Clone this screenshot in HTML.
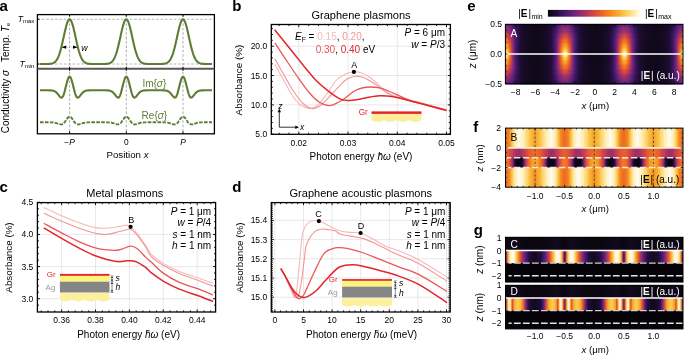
<!DOCTYPE html>
<html><head><meta charset="utf-8"><style>
html,body{margin:0;padding:0;background:#fff;}
svg{display:block;will-change:transform;}
text{font-family:"Liberation Sans", sans-serif;}
</style></head><body>
<svg width="685" height="356" viewBox="0 0 685 356">
<defs><linearGradient id="g1" gradientUnits="userSpaceOnUse" x1="565.13" y1="0" x2="594.85" y2="0" spreadMethod="reflect"><stop offset="0" stop-color="#672377"/><stop offset="0.04" stop-color="#652376"/><stop offset="0.08" stop-color="#612275"/><stop offset="0.12" stop-color="#5b2074"/><stop offset="0.17" stop-color="#531d72"/><stop offset="0.21" stop-color="#491a70"/><stop offset="0.25" stop-color="#411866"/><stop offset="0.29" stop-color="#38155a"/><stop offset="0.33" stop-color="#30134e"/><stop offset="0.38" stop-color="#291044"/><stop offset="0.42" stop-color="#230e3b"/><stop offset="0.46" stop-color="#1f0d35"/><stop offset="0.5" stop-color="#1c0c2f"/><stop offset="0.54" stop-color="#1a0c2b"/><stop offset="0.58" stop-color="#180b28"/><stop offset="0.62" stop-color="#160b25"/><stop offset="0.67" stop-color="#150a23"/><stop offset="0.71" stop-color="#140a21"/><stop offset="0.75" stop-color="#130a20"/><stop offset="0.79" stop-color="#12091e"/><stop offset="0.83" stop-color="#12091d"/><stop offset="0.88" stop-color="#11091c"/><stop offset="0.92" stop-color="#11091c"/><stop offset="0.96" stop-color="#10091b"/><stop offset="1" stop-color="#10091b"/></linearGradient><linearGradient id="g2" gradientUnits="userSpaceOnUse" x1="565.13" y1="0" x2="594.85" y2="0" spreadMethod="reflect"><stop offset="0" stop-color="#6c2578"/><stop offset="0.04" stop-color="#6b2578"/><stop offset="0.08" stop-color="#662377"/><stop offset="0.12" stop-color="#602175"/><stop offset="0.17" stop-color="#571e73"/><stop offset="0.21" stop-color="#4d1b71"/><stop offset="0.25" stop-color="#431869"/><stop offset="0.29" stop-color="#3a165c"/><stop offset="0.33" stop-color="#321350"/><stop offset="0.38" stop-color="#2a1145"/><stop offset="0.42" stop-color="#230e3c"/><stop offset="0.46" stop-color="#1f0d35"/><stop offset="0.5" stop-color="#1c0c30"/><stop offset="0.54" stop-color="#1a0c2b"/><stop offset="0.58" stop-color="#180b28"/><stop offset="0.62" stop-color="#160b25"/><stop offset="0.67" stop-color="#150a23"/><stop offset="0.71" stop-color="#140a21"/><stop offset="0.75" stop-color="#130a20"/><stop offset="0.79" stop-color="#12091e"/><stop offset="0.83" stop-color="#12091d"/><stop offset="0.88" stop-color="#11091c"/><stop offset="0.92" stop-color="#11091c"/><stop offset="0.96" stop-color="#10091b"/><stop offset="1" stop-color="#10091b"/></linearGradient><linearGradient id="g3" gradientUnits="userSpaceOnUse" x1="565.13" y1="0" x2="594.85" y2="0" spreadMethod="reflect"><stop offset="0" stop-color="#76287a"/><stop offset="0.04" stop-color="#74277a"/><stop offset="0.08" stop-color="#6f2679"/><stop offset="0.12" stop-color="#682477"/><stop offset="0.17" stop-color="#5e2175"/><stop offset="0.21" stop-color="#531d72"/><stop offset="0.25" stop-color="#471a6f"/><stop offset="0.29" stop-color="#3e1761"/><stop offset="0.33" stop-color="#341454"/><stop offset="0.38" stop-color="#2c1148"/><stop offset="0.42" stop-color="#250f3e"/><stop offset="0.46" stop-color="#200d36"/><stop offset="0.5" stop-color="#1d0c31"/><stop offset="0.54" stop-color="#1a0c2c"/><stop offset="0.58" stop-color="#180b29"/><stop offset="0.62" stop-color="#160b26"/><stop offset="0.67" stop-color="#150a23"/><stop offset="0.71" stop-color="#140a21"/><stop offset="0.75" stop-color="#130a20"/><stop offset="0.79" stop-color="#12091f"/><stop offset="0.83" stop-color="#12091d"/><stop offset="0.88" stop-color="#11091d"/><stop offset="0.92" stop-color="#11091c"/><stop offset="0.96" stop-color="#10091b"/><stop offset="1" stop-color="#10091b"/></linearGradient><linearGradient id="g4" gradientUnits="userSpaceOnUse" x1="565.13" y1="0" x2="594.85" y2="0" spreadMethod="reflect"><stop offset="0" stop-color="#822a75"/><stop offset="0.04" stop-color="#802a76"/><stop offset="0.08" stop-color="#7a2978"/><stop offset="0.12" stop-color="#712779"/><stop offset="0.17" stop-color="#662377"/><stop offset="0.21" stop-color="#5a1f74"/><stop offset="0.25" stop-color="#4d1c71"/><stop offset="0.29" stop-color="#421867"/><stop offset="0.33" stop-color="#381559"/><stop offset="0.38" stop-color="#2f124c"/><stop offset="0.42" stop-color="#271041"/><stop offset="0.46" stop-color="#210e38"/><stop offset="0.5" stop-color="#1d0d32"/><stop offset="0.54" stop-color="#1b0c2d"/><stop offset="0.58" stop-color="#180b29"/><stop offset="0.62" stop-color="#170b26"/><stop offset="0.67" stop-color="#150a24"/><stop offset="0.71" stop-color="#140a22"/><stop offset="0.75" stop-color="#130a20"/><stop offset="0.79" stop-color="#12091f"/><stop offset="0.83" stop-color="#12091e"/><stop offset="0.88" stop-color="#11091d"/><stop offset="0.92" stop-color="#11091c"/><stop offset="0.96" stop-color="#10091b"/><stop offset="1" stop-color="#10091b"/></linearGradient><linearGradient id="g5" gradientUnits="userSpaceOnUse" x1="565.13" y1="0" x2="594.85" y2="0" spreadMethod="reflect"><stop offset="0" stop-color="#8e2d6f"/><stop offset="0.04" stop-color="#8c2c70"/><stop offset="0.08" stop-color="#852b73"/><stop offset="0.12" stop-color="#7b2978"/><stop offset="0.17" stop-color="#6f2678"/><stop offset="0.21" stop-color="#612275"/><stop offset="0.25" stop-color="#531d72"/><stop offset="0.29" stop-color="#45196c"/><stop offset="0.33" stop-color="#3b165d"/><stop offset="0.38" stop-color="#31134f"/><stop offset="0.42" stop-color="#291043"/><stop offset="0.46" stop-color="#220e3a"/><stop offset="0.5" stop-color="#1e0d33"/><stop offset="0.54" stop-color="#1b0c2e"/><stop offset="0.58" stop-color="#190b2a"/><stop offset="0.62" stop-color="#170b27"/><stop offset="0.67" stop-color="#160a24"/><stop offset="0.71" stop-color="#140a22"/><stop offset="0.75" stop-color="#130a20"/><stop offset="0.79" stop-color="#130a1f"/><stop offset="0.83" stop-color="#12091e"/><stop offset="0.88" stop-color="#11091d"/><stop offset="0.92" stop-color="#11091c"/><stop offset="0.96" stop-color="#10091b"/><stop offset="1" stop-color="#10091b"/></linearGradient><linearGradient id="g6" gradientUnits="userSpaceOnUse" x1="565.13" y1="0" x2="594.85" y2="0" spreadMethod="reflect"><stop offset="0" stop-color="#982f6b"/><stop offset="0.04" stop-color="#962e6c"/><stop offset="0.08" stop-color="#8f2d6f"/><stop offset="0.12" stop-color="#842b74"/><stop offset="0.17" stop-color="#76287a"/><stop offset="0.21" stop-color="#672377"/><stop offset="0.25" stop-color="#571f73"/><stop offset="0.29" stop-color="#481a70"/><stop offset="0.33" stop-color="#3d1660"/><stop offset="0.38" stop-color="#331351"/><stop offset="0.42" stop-color="#2a1045"/><stop offset="0.46" stop-color="#220e3b"/><stop offset="0.5" stop-color="#1e0d34"/><stop offset="0.54" stop-color="#1b0c2f"/><stop offset="0.58" stop-color="#190b2a"/><stop offset="0.62" stop-color="#170b27"/><stop offset="0.67" stop-color="#160a24"/><stop offset="0.71" stop-color="#140a22"/><stop offset="0.75" stop-color="#130a21"/><stop offset="0.79" stop-color="#130a1f"/><stop offset="0.83" stop-color="#12091e"/><stop offset="0.88" stop-color="#11091d"/><stop offset="0.92" stop-color="#11091c"/><stop offset="0.96" stop-color="#10091b"/><stop offset="1" stop-color="#10091b"/></linearGradient><linearGradient id="g7" gradientUnits="userSpaceOnUse" x1="565.13" y1="0" x2="594.85" y2="0" spreadMethod="reflect"><stop offset="0" stop-color="#9e3068"/><stop offset="0.04" stop-color="#9c3069"/><stop offset="0.08" stop-color="#942e6d"/><stop offset="0.12" stop-color="#882c72"/><stop offset="0.17" stop-color="#792979"/><stop offset="0.21" stop-color="#6a2477"/><stop offset="0.25" stop-color="#591f74"/><stop offset="0.29" stop-color="#4a1b70"/><stop offset="0.33" stop-color="#3d1761"/><stop offset="0.38" stop-color="#331352"/><stop offset="0.42" stop-color="#2a1045"/><stop offset="0.46" stop-color="#220e3b"/><stop offset="0.5" stop-color="#1e0d34"/><stop offset="0.54" stop-color="#1b0c2f"/><stop offset="0.58" stop-color="#190b2a"/><stop offset="0.62" stop-color="#170b27"/><stop offset="0.67" stop-color="#160a24"/><stop offset="0.71" stop-color="#140a22"/><stop offset="0.75" stop-color="#130a21"/><stop offset="0.79" stop-color="#130a1f"/><stop offset="0.83" stop-color="#12091e"/><stop offset="0.88" stop-color="#11091d"/><stop offset="0.92" stop-color="#11091c"/><stop offset="0.96" stop-color="#10091b"/><stop offset="1" stop-color="#10091b"/></linearGradient><linearGradient id="g8" gradientUnits="userSpaceOnUse" x1="565.13" y1="0" x2="594.85" y2="0" spreadMethod="reflect"><stop offset="0" stop-color="#a13167"/><stop offset="0.04" stop-color="#9e3068"/><stop offset="0.08" stop-color="#962e6c"/><stop offset="0.12" stop-color="#8a2c71"/><stop offset="0.17" stop-color="#7a2978"/><stop offset="0.21" stop-color="#6a2477"/><stop offset="0.25" stop-color="#591f74"/><stop offset="0.29" stop-color="#491a70"/><stop offset="0.33" stop-color="#3d1660"/><stop offset="0.38" stop-color="#321351"/><stop offset="0.42" stop-color="#291044"/><stop offset="0.46" stop-color="#220e3a"/><stop offset="0.5" stop-color="#1e0d33"/><stop offset="0.54" stop-color="#1b0c2e"/><stop offset="0.58" stop-color="#190b2a"/><stop offset="0.62" stop-color="#170b27"/><stop offset="0.67" stop-color="#150a24"/><stop offset="0.71" stop-color="#140a22"/><stop offset="0.75" stop-color="#130a20"/><stop offset="0.79" stop-color="#12091f"/><stop offset="0.83" stop-color="#12091e"/><stop offset="0.88" stop-color="#11091d"/><stop offset="0.92" stop-color="#11091c"/><stop offset="0.96" stop-color="#10091b"/><stop offset="1" stop-color="#10091b"/></linearGradient><linearGradient id="g9" gradientUnits="userSpaceOnUse" x1="565.13" y1="0" x2="594.85" y2="0" spreadMethod="reflect"><stop offset="0" stop-color="#ab3461"/><stop offset="0.04" stop-color="#a93264"/><stop offset="0.08" stop-color="#a03067"/><stop offset="0.12" stop-color="#932e6d"/><stop offset="0.17" stop-color="#822a75"/><stop offset="0.21" stop-color="#6f2679"/><stop offset="0.25" stop-color="#5e2175"/><stop offset="0.29" stop-color="#4d1b71"/><stop offset="0.33" stop-color="#3f1763"/><stop offset="0.38" stop-color="#341453"/><stop offset="0.42" stop-color="#2a1146"/><stop offset="0.46" stop-color="#220e3b"/><stop offset="0.5" stop-color="#1e0d34"/><stop offset="0.54" stop-color="#1b0c2e"/><stop offset="0.58" stop-color="#190b2a"/><stop offset="0.62" stop-color="#170b27"/><stop offset="0.67" stop-color="#160a24"/><stop offset="0.71" stop-color="#140a22"/><stop offset="0.75" stop-color="#130a20"/><stop offset="0.79" stop-color="#13091f"/><stop offset="0.83" stop-color="#12091e"/><stop offset="0.88" stop-color="#11091d"/><stop offset="0.92" stop-color="#11091c"/><stop offset="0.96" stop-color="#10091b"/><stop offset="1" stop-color="#10091b"/></linearGradient><linearGradient id="g10" gradientUnits="userSpaceOnUse" x1="565.13" y1="0" x2="594.85" y2="0" spreadMethod="reflect"><stop offset="0" stop-color="#ba3b56"/><stop offset="0.04" stop-color="#b73a58"/><stop offset="0.08" stop-color="#af355f"/><stop offset="0.12" stop-color="#a03067"/><stop offset="0.17" stop-color="#8e2d70"/><stop offset="0.21" stop-color="#792979"/><stop offset="0.25" stop-color="#652376"/><stop offset="0.29" stop-color="#521d72"/><stop offset="0.33" stop-color="#421868"/><stop offset="0.38" stop-color="#361457"/><stop offset="0.42" stop-color="#2c1148"/><stop offset="0.46" stop-color="#240f3d"/><stop offset="0.5" stop-color="#1f0d35"/><stop offset="0.54" stop-color="#1c0c2f"/><stop offset="0.58" stop-color="#190b2b"/><stop offset="0.62" stop-color="#170b28"/><stop offset="0.67" stop-color="#160a25"/><stop offset="0.71" stop-color="#150a23"/><stop offset="0.75" stop-color="#140a21"/><stop offset="0.79" stop-color="#130a1f"/><stop offset="0.83" stop-color="#12091e"/><stop offset="0.88" stop-color="#11091d"/><stop offset="0.92" stop-color="#11091c"/><stop offset="0.96" stop-color="#10091b"/><stop offset="1" stop-color="#10091b"/></linearGradient><linearGradient id="g11" gradientUnits="userSpaceOnUse" x1="565.13" y1="0" x2="594.85" y2="0" spreadMethod="reflect"><stop offset="0" stop-color="#c9434a"/><stop offset="0.04" stop-color="#c6414d"/><stop offset="0.08" stop-color="#bd3c54"/><stop offset="0.12" stop-color="#ae355f"/><stop offset="0.17" stop-color="#9a2f6a"/><stop offset="0.21" stop-color="#832b74"/><stop offset="0.25" stop-color="#6c2578"/><stop offset="0.29" stop-color="#581f73"/><stop offset="0.33" stop-color="#46196d"/><stop offset="0.38" stop-color="#39155a"/><stop offset="0.42" stop-color="#2e124b"/><stop offset="0.46" stop-color="#250f3f"/><stop offset="0.5" stop-color="#200d36"/><stop offset="0.54" stop-color="#1c0c30"/><stop offset="0.58" stop-color="#1a0c2c"/><stop offset="0.62" stop-color="#180b28"/><stop offset="0.67" stop-color="#160b25"/><stop offset="0.71" stop-color="#150a23"/><stop offset="0.75" stop-color="#140a21"/><stop offset="0.79" stop-color="#130a1f"/><stop offset="0.83" stop-color="#12091e"/><stop offset="0.88" stop-color="#11091d"/><stop offset="0.92" stop-color="#11091c"/><stop offset="0.96" stop-color="#10091b"/><stop offset="1" stop-color="#10091b"/></linearGradient><linearGradient id="g12" gradientUnits="userSpaceOnUse" x1="565.13" y1="0" x2="594.85" y2="0" spreadMethod="reflect"><stop offset="0" stop-color="#d54941"/><stop offset="0.04" stop-color="#d14744"/><stop offset="0.08" stop-color="#c7424c"/><stop offset="0.12" stop-color="#b73a58"/><stop offset="0.17" stop-color="#a23166"/><stop offset="0.21" stop-color="#8a2c71"/><stop offset="0.25" stop-color="#712679"/><stop offset="0.29" stop-color="#5b2074"/><stop offset="0.33" stop-color="#481a70"/><stop offset="0.38" stop-color="#3a165c"/><stop offset="0.42" stop-color="#2f124c"/><stop offset="0.46" stop-color="#260f40"/><stop offset="0.5" stop-color="#200d37"/><stop offset="0.54" stop-color="#1d0c31"/><stop offset="0.58" stop-color="#1a0c2c"/><stop offset="0.62" stop-color="#180b28"/><stop offset="0.67" stop-color="#160b25"/><stop offset="0.71" stop-color="#150a23"/><stop offset="0.75" stop-color="#140a21"/><stop offset="0.79" stop-color="#130a1f"/><stop offset="0.83" stop-color="#12091e"/><stop offset="0.88" stop-color="#11091d"/><stop offset="0.92" stop-color="#11091c"/><stop offset="0.96" stop-color="#10091b"/><stop offset="1" stop-color="#10091a"/></linearGradient><linearGradient id="g13" gradientUnits="userSpaceOnUse" x1="565.13" y1="0" x2="594.85" y2="0" spreadMethod="reflect"><stop offset="0" stop-color="#d74c3f"/><stop offset="0.04" stop-color="#d44941"/><stop offset="0.08" stop-color="#ca434a"/><stop offset="0.12" stop-color="#b93b57"/><stop offset="0.17" stop-color="#a43166"/><stop offset="0.21" stop-color="#8a2c71"/><stop offset="0.25" stop-color="#712679"/><stop offset="0.29" stop-color="#5b2074"/><stop offset="0.33" stop-color="#471a6f"/><stop offset="0.38" stop-color="#39155b"/><stop offset="0.42" stop-color="#2e124b"/><stop offset="0.46" stop-color="#250f3f"/><stop offset="0.5" stop-color="#200d36"/><stop offset="0.54" stop-color="#1c0c30"/><stop offset="0.58" stop-color="#1a0c2c"/><stop offset="0.62" stop-color="#180b28"/><stop offset="0.67" stop-color="#160b25"/><stop offset="0.71" stop-color="#150a23"/><stop offset="0.75" stop-color="#140a21"/><stop offset="0.79" stop-color="#130a1f"/><stop offset="0.83" stop-color="#12091e"/><stop offset="0.88" stop-color="#11091d"/><stop offset="0.92" stop-color="#11091c"/><stop offset="0.96" stop-color="#10091b"/><stop offset="1" stop-color="#10091a"/></linearGradient><linearGradient id="g14" gradientUnits="userSpaceOnUse" x1="565.13" y1="0" x2="594.85" y2="0" spreadMethod="reflect"><stop offset="0" stop-color="#db5239"/><stop offset="0.04" stop-color="#d94f3c"/><stop offset="0.08" stop-color="#d14744"/><stop offset="0.12" stop-color="#bf3e52"/><stop offset="0.17" stop-color="#a93363"/><stop offset="0.21" stop-color="#8e2d6f"/><stop offset="0.25" stop-color="#732779"/><stop offset="0.29" stop-color="#5c2074"/><stop offset="0.33" stop-color="#481a6f"/><stop offset="0.38" stop-color="#39155b"/><stop offset="0.42" stop-color="#2e124b"/><stop offset="0.46" stop-color="#250f3e"/><stop offset="0.5" stop-color="#200d36"/><stop offset="0.54" stop-color="#1c0c30"/><stop offset="0.58" stop-color="#1a0c2b"/><stop offset="0.62" stop-color="#180b28"/><stop offset="0.67" stop-color="#160a25"/><stop offset="0.71" stop-color="#150a23"/><stop offset="0.75" stop-color="#130a21"/><stop offset="0.79" stop-color="#13091f"/><stop offset="0.83" stop-color="#12091e"/><stop offset="0.88" stop-color="#11091d"/><stop offset="0.92" stop-color="#11091c"/><stop offset="0.96" stop-color="#10091b"/><stop offset="1" stop-color="#10091a"/></linearGradient><linearGradient id="g15" gradientUnits="userSpaceOnUse" x1="565.13" y1="0" x2="594.85" y2="0" spreadMethod="reflect"><stop offset="0" stop-color="#e35d2f"/><stop offset="0.04" stop-color="#e15a32"/><stop offset="0.08" stop-color="#da503b"/><stop offset="0.12" stop-color="#cb4349"/><stop offset="0.17" stop-color="#b3375c"/><stop offset="0.21" stop-color="#972f6c"/><stop offset="0.25" stop-color="#792979"/><stop offset="0.29" stop-color="#602175"/><stop offset="0.33" stop-color="#4a1b70"/><stop offset="0.38" stop-color="#3b165e"/><stop offset="0.42" stop-color="#2f124d"/><stop offset="0.46" stop-color="#260f40"/><stop offset="0.5" stop-color="#200d37"/><stop offset="0.54" stop-color="#1d0c31"/><stop offset="0.58" stop-color="#1a0c2c"/><stop offset="0.62" stop-color="#180b28"/><stop offset="0.67" stop-color="#160b25"/><stop offset="0.71" stop-color="#150a23"/><stop offset="0.75" stop-color="#140a21"/><stop offset="0.79" stop-color="#130a1f"/><stop offset="0.83" stop-color="#12091e"/><stop offset="0.88" stop-color="#11091c"/><stop offset="0.92" stop-color="#11091c"/><stop offset="0.96" stop-color="#10091b"/><stop offset="1" stop-color="#10091a"/></linearGradient><linearGradient id="g16" gradientUnits="userSpaceOnUse" x1="565.13" y1="0" x2="594.85" y2="0" spreadMethod="reflect"><stop offset="0" stop-color="#ec6a24"/><stop offset="0.04" stop-color="#e96628"/><stop offset="0.08" stop-color="#e15b31"/><stop offset="0.12" stop-color="#d64a40"/><stop offset="0.17" stop-color="#bd3c54"/><stop offset="0.21" stop-color="#9f3068"/><stop offset="0.25" stop-color="#802a76"/><stop offset="0.29" stop-color="#642376"/><stop offset="0.33" stop-color="#4d1c71"/><stop offset="0.38" stop-color="#3d1660"/><stop offset="0.42" stop-color="#30134e"/><stop offset="0.46" stop-color="#271041"/><stop offset="0.5" stop-color="#200e37"/><stop offset="0.54" stop-color="#1d0d31"/><stop offset="0.58" stop-color="#1a0c2c"/><stop offset="0.62" stop-color="#180b29"/><stop offset="0.67" stop-color="#160b25"/><stop offset="0.71" stop-color="#150a23"/><stop offset="0.75" stop-color="#140a21"/><stop offset="0.79" stop-color="#130a1f"/><stop offset="0.83" stop-color="#12091e"/><stop offset="0.88" stop-color="#11091c"/><stop offset="0.92" stop-color="#11091c"/><stop offset="0.96" stop-color="#10091b"/><stop offset="1" stop-color="#10091a"/></linearGradient><linearGradient id="g17" gradientUnits="userSpaceOnUse" x1="565.13" y1="0" x2="594.85" y2="0" spreadMethod="reflect"><stop offset="0" stop-color="#ee7424"/><stop offset="0.04" stop-color="#ed6f24"/><stop offset="0.08" stop-color="#e7622b"/><stop offset="0.12" stop-color="#da503b"/><stop offset="0.17" stop-color="#c33f4f"/><stop offset="0.21" stop-color="#a43166"/><stop offset="0.25" stop-color="#832b74"/><stop offset="0.29" stop-color="#662376"/><stop offset="0.33" stop-color="#4e1c71"/><stop offset="0.38" stop-color="#3d1760"/><stop offset="0.42" stop-color="#30134e"/><stop offset="0.46" stop-color="#271041"/><stop offset="0.5" stop-color="#200e37"/><stop offset="0.54" stop-color="#1d0d31"/><stop offset="0.58" stop-color="#1a0c2c"/><stop offset="0.62" stop-color="#180b28"/><stop offset="0.67" stop-color="#160b25"/><stop offset="0.71" stop-color="#150a23"/><stop offset="0.75" stop-color="#140a21"/><stop offset="0.79" stop-color="#13091f"/><stop offset="0.83" stop-color="#12091d"/><stop offset="0.88" stop-color="#11091c"/><stop offset="0.92" stop-color="#11091b"/><stop offset="0.96" stop-color="#10091b"/><stop offset="1" stop-color="#10091a"/></linearGradient><linearGradient id="g18" gradientUnits="userSpaceOnUse" x1="565.13" y1="0" x2="594.85" y2="0" spreadMethod="reflect"><stop offset="0" stop-color="#ef7623"/><stop offset="0.04" stop-color="#ee7124"/><stop offset="0.08" stop-color="#e86429"/><stop offset="0.12" stop-color="#db513a"/><stop offset="0.17" stop-color="#c33f4f"/><stop offset="0.21" stop-color="#a33166"/><stop offset="0.25" stop-color="#812a75"/><stop offset="0.29" stop-color="#642276"/><stop offset="0.33" stop-color="#4c1b71"/><stop offset="0.38" stop-color="#3b165e"/><stop offset="0.42" stop-color="#2f124d"/><stop offset="0.46" stop-color="#260f3f"/><stop offset="0.5" stop-color="#200d36"/><stop offset="0.54" stop-color="#1c0c30"/><stop offset="0.58" stop-color="#1a0c2c"/><stop offset="0.62" stop-color="#180b28"/><stop offset="0.67" stop-color="#160a25"/><stop offset="0.71" stop-color="#140a22"/><stop offset="0.75" stop-color="#130a20"/><stop offset="0.79" stop-color="#12091f"/><stop offset="0.83" stop-color="#12091d"/><stop offset="0.88" stop-color="#11091c"/><stop offset="0.92" stop-color="#10091b"/><stop offset="0.96" stop-color="#10091a"/><stop offset="1" stop-color="#10091a"/></linearGradient><linearGradient id="g19" gradientUnits="userSpaceOnUse" x1="565.13" y1="0" x2="594.85" y2="0" spreadMethod="reflect"><stop offset="0" stop-color="#f17f23"/><stop offset="0.04" stop-color="#f07a23"/><stop offset="0.08" stop-color="#ec6a24"/><stop offset="0.12" stop-color="#de5635"/><stop offset="0.17" stop-color="#c7424c"/><stop offset="0.21" stop-color="#a63265"/><stop offset="0.25" stop-color="#832b74"/><stop offset="0.29" stop-color="#642376"/><stop offset="0.33" stop-color="#4c1b71"/><stop offset="0.38" stop-color="#3b165e"/><stop offset="0.42" stop-color="#2f124c"/><stop offset="0.46" stop-color="#260f3f"/><stop offset="0.5" stop-color="#200d36"/><stop offset="0.54" stop-color="#1c0c30"/><stop offset="0.58" stop-color="#1a0c2b"/><stop offset="0.62" stop-color="#180b28"/><stop offset="0.67" stop-color="#160a25"/><stop offset="0.71" stop-color="#140a22"/><stop offset="0.75" stop-color="#130a20"/><stop offset="0.79" stop-color="#12091e"/><stop offset="0.83" stop-color="#11091d"/><stop offset="0.88" stop-color="#11091c"/><stop offset="0.92" stop-color="#10091b"/><stop offset="0.96" stop-color="#10091a"/><stop offset="1" stop-color="#10091a"/></linearGradient><linearGradient id="g20" gradientUnits="userSpaceOnUse" x1="565.13" y1="0" x2="594.85" y2="0" spreadMethod="reflect"><stop offset="0" stop-color="#f58d22"/><stop offset="0.04" stop-color="#f38723"/><stop offset="0.08" stop-color="#ef7623"/><stop offset="0.12" stop-color="#e45e2e"/><stop offset="0.17" stop-color="#cf4646"/><stop offset="0.21" stop-color="#ac3461"/><stop offset="0.25" stop-color="#872b73"/><stop offset="0.29" stop-color="#672377"/><stop offset="0.33" stop-color="#4d1c71"/><stop offset="0.38" stop-color="#3c165f"/><stop offset="0.42" stop-color="#2f124d"/><stop offset="0.46" stop-color="#260f3f"/><stop offset="0.5" stop-color="#200d36"/><stop offset="0.54" stop-color="#1c0c30"/><stop offset="0.58" stop-color="#1a0c2c"/><stop offset="0.62" stop-color="#180b28"/><stop offset="0.67" stop-color="#160a25"/><stop offset="0.71" stop-color="#140a22"/><stop offset="0.75" stop-color="#130a20"/><stop offset="0.79" stop-color="#12091e"/><stop offset="0.83" stop-color="#11091d"/><stop offset="0.88" stop-color="#11091c"/><stop offset="0.92" stop-color="#10091b"/><stop offset="0.96" stop-color="#10091a"/><stop offset="1" stop-color="#10091a"/></linearGradient><linearGradient id="g21" gradientUnits="userSpaceOnUse" x1="565.13" y1="0" x2="594.85" y2="0" spreadMethod="reflect"><stop offset="0" stop-color="#f79a27"/><stop offset="0.04" stop-color="#f69423"/><stop offset="0.08" stop-color="#f28123"/><stop offset="0.12" stop-color="#e96627"/><stop offset="0.17" stop-color="#d64a40"/><stop offset="0.21" stop-color="#b1375d"/><stop offset="0.25" stop-color="#8b2c71"/><stop offset="0.29" stop-color="#692477"/><stop offset="0.33" stop-color="#4e1c71"/><stop offset="0.38" stop-color="#3c165f"/><stop offset="0.42" stop-color="#30124d"/><stop offset="0.46" stop-color="#260f40"/><stop offset="0.5" stop-color="#200d36"/><stop offset="0.54" stop-color="#1c0c30"/><stop offset="0.58" stop-color="#1a0c2c"/><stop offset="0.62" stop-color="#180b28"/><stop offset="0.67" stop-color="#160a25"/><stop offset="0.71" stop-color="#140a22"/><stop offset="0.75" stop-color="#130a20"/><stop offset="0.79" stop-color="#12091e"/><stop offset="0.83" stop-color="#11091d"/><stop offset="0.88" stop-color="#11091c"/><stop offset="0.92" stop-color="#10091b"/><stop offset="0.96" stop-color="#10091a"/><stop offset="1" stop-color="#10091a"/></linearGradient><linearGradient id="g22" gradientUnits="userSpaceOnUse" x1="565.13" y1="0" x2="594.85" y2="0" spreadMethod="reflect"><stop offset="0" stop-color="#f8a42d"/><stop offset="0.04" stop-color="#f79c28"/><stop offset="0.08" stop-color="#f48822"/><stop offset="0.12" stop-color="#ec6b24"/><stop offset="0.17" stop-color="#d84d3d"/><stop offset="0.21" stop-color="#b3385b"/><stop offset="0.25" stop-color="#8b2c71"/><stop offset="0.29" stop-color="#682477"/><stop offset="0.33" stop-color="#4e1c71"/><stop offset="0.38" stop-color="#3c165f"/><stop offset="0.42" stop-color="#2f124c"/><stop offset="0.46" stop-color="#260f3f"/><stop offset="0.5" stop-color="#200d36"/><stop offset="0.54" stop-color="#1c0c30"/><stop offset="0.58" stop-color="#1a0c2b"/><stop offset="0.62" stop-color="#170b27"/><stop offset="0.67" stop-color="#160a24"/><stop offset="0.71" stop-color="#140a22"/><stop offset="0.75" stop-color="#130a20"/><stop offset="0.79" stop-color="#12091e"/><stop offset="0.83" stop-color="#11091d"/><stop offset="0.88" stop-color="#11091b"/><stop offset="0.92" stop-color="#10091b"/><stop offset="0.96" stop-color="#10091a"/><stop offset="1" stop-color="#0f091a"/></linearGradient><linearGradient id="g23" gradientUnits="userSpaceOnUse" x1="565.13" y1="0" x2="594.85" y2="0" spreadMethod="reflect"><stop offset="0" stop-color="#f8a72f"/><stop offset="0.04" stop-color="#f79f2a"/><stop offset="0.08" stop-color="#f48a22"/><stop offset="0.12" stop-color="#ec6b24"/><stop offset="0.17" stop-color="#d74d3e"/><stop offset="0.21" stop-color="#b1375d"/><stop offset="0.25" stop-color="#882c72"/><stop offset="0.29" stop-color="#662376"/><stop offset="0.33" stop-color="#4b1b71"/><stop offset="0.38" stop-color="#3a165c"/><stop offset="0.42" stop-color="#2e124a"/><stop offset="0.46" stop-color="#240f3d"/><stop offset="0.5" stop-color="#1f0d35"/><stop offset="0.54" stop-color="#1c0c2f"/><stop offset="0.58" stop-color="#190b2b"/><stop offset="0.62" stop-color="#170b27"/><stop offset="0.67" stop-color="#150a24"/><stop offset="0.71" stop-color="#140a21"/><stop offset="0.75" stop-color="#130a1f"/><stop offset="0.79" stop-color="#12091e"/><stop offset="0.83" stop-color="#11091c"/><stop offset="0.88" stop-color="#10091b"/><stop offset="0.92" stop-color="#10091a"/><stop offset="0.96" stop-color="#10091a"/><stop offset="1" stop-color="#0f0919"/></linearGradient><linearGradient id="g24" gradientUnits="userSpaceOnUse" x1="565.13" y1="0" x2="594.85" y2="0" spreadMethod="reflect"><stop offset="0" stop-color="#f9b236"/><stop offset="0.04" stop-color="#f8aa31"/><stop offset="0.08" stop-color="#f69222"/><stop offset="0.12" stop-color="#ee7224"/><stop offset="0.17" stop-color="#da503b"/><stop offset="0.21" stop-color="#b4385b"/><stop offset="0.25" stop-color="#892c71"/><stop offset="0.29" stop-color="#662376"/><stop offset="0.33" stop-color="#4b1b71"/><stop offset="0.38" stop-color="#39155b"/><stop offset="0.42" stop-color="#2d124a"/><stop offset="0.46" stop-color="#240f3d"/><stop offset="0.5" stop-color="#1f0d35"/><stop offset="0.54" stop-color="#1c0c2f"/><stop offset="0.58" stop-color="#190b2a"/><stop offset="0.62" stop-color="#170b27"/><stop offset="0.67" stop-color="#150a24"/><stop offset="0.71" stop-color="#140a21"/><stop offset="0.75" stop-color="#13091f"/><stop offset="0.79" stop-color="#12091d"/><stop offset="0.83" stop-color="#11091c"/><stop offset="0.88" stop-color="#10091b"/><stop offset="0.92" stop-color="#10091a"/><stop offset="0.96" stop-color="#10091a"/><stop offset="1" stop-color="#0f0919"/></linearGradient><linearGradient id="g25" gradientUnits="userSpaceOnUse" x1="565.13" y1="0" x2="594.85" y2="0" spreadMethod="reflect"><stop offset="0" stop-color="#fac146"/><stop offset="0.04" stop-color="#fab83a"/><stop offset="0.08" stop-color="#f79f2a"/><stop offset="0.12" stop-color="#f07b23"/><stop offset="0.17" stop-color="#dd5536"/><stop offset="0.21" stop-color="#b83a58"/><stop offset="0.25" stop-color="#8c2c70"/><stop offset="0.29" stop-color="#672377"/><stop offset="0.33" stop-color="#4b1b71"/><stop offset="0.38" stop-color="#3a155b"/><stop offset="0.42" stop-color="#2d124a"/><stop offset="0.46" stop-color="#240f3d"/><stop offset="0.5" stop-color="#1f0d35"/><stop offset="0.54" stop-color="#1c0c2f"/><stop offset="0.58" stop-color="#190b2a"/><stop offset="0.62" stop-color="#170b26"/><stop offset="0.67" stop-color="#150a23"/><stop offset="0.71" stop-color="#140a21"/><stop offset="0.75" stop-color="#12091f"/><stop offset="0.79" stop-color="#12091d"/><stop offset="0.83" stop-color="#11091c"/><stop offset="0.88" stop-color="#10091b"/><stop offset="0.92" stop-color="#10091a"/><stop offset="0.96" stop-color="#10091a"/><stop offset="1" stop-color="#0f0919"/></linearGradient><linearGradient id="g26" gradientUnits="userSpaceOnUse" x1="565.13" y1="0" x2="594.85" y2="0" spreadMethod="reflect"><stop offset="0" stop-color="#fbcb5b"/><stop offset="0.04" stop-color="#fac249"/><stop offset="0.08" stop-color="#f8a72f"/><stop offset="0.12" stop-color="#f28123"/><stop offset="0.17" stop-color="#df5834"/><stop offset="0.21" stop-color="#ba3b56"/><stop offset="0.25" stop-color="#8c2c70"/><stop offset="0.29" stop-color="#662377"/><stop offset="0.33" stop-color="#4a1b70"/><stop offset="0.38" stop-color="#39155b"/><stop offset="0.42" stop-color="#2d1149"/><stop offset="0.46" stop-color="#240f3c"/><stop offset="0.5" stop-color="#1f0d34"/><stop offset="0.54" stop-color="#1b0c2f"/><stop offset="0.58" stop-color="#190b2a"/><stop offset="0.62" stop-color="#170b26"/><stop offset="0.67" stop-color="#150a23"/><stop offset="0.71" stop-color="#130a20"/><stop offset="0.75" stop-color="#12091e"/><stop offset="0.79" stop-color="#11091d"/><stop offset="0.83" stop-color="#11091c"/><stop offset="0.88" stop-color="#10091b"/><stop offset="0.92" stop-color="#10091a"/><stop offset="0.96" stop-color="#0f091a"/><stop offset="1" stop-color="#0f0919"/></linearGradient><linearGradient id="g27" gradientUnits="userSpaceOnUse" x1="565.13" y1="0" x2="594.85" y2="0" spreadMethod="reflect"><stop offset="0" stop-color="#fcd066"/><stop offset="0.04" stop-color="#fbc752"/><stop offset="0.08" stop-color="#f8ab31"/><stop offset="0.12" stop-color="#f28223"/><stop offset="0.17" stop-color="#df5834"/><stop offset="0.21" stop-color="#b83a58"/><stop offset="0.25" stop-color="#892c72"/><stop offset="0.29" stop-color="#632276"/><stop offset="0.33" stop-color="#481a70"/><stop offset="0.38" stop-color="#371558"/><stop offset="0.42" stop-color="#2b1147"/><stop offset="0.46" stop-color="#230e3b"/><stop offset="0.5" stop-color="#1e0d34"/><stop offset="0.54" stop-color="#1b0c2e"/><stop offset="0.58" stop-color="#180b29"/><stop offset="0.62" stop-color="#160b26"/><stop offset="0.67" stop-color="#150a22"/><stop offset="0.71" stop-color="#130a20"/><stop offset="0.75" stop-color="#12091e"/><stop offset="0.79" stop-color="#11091d"/><stop offset="0.83" stop-color="#11091b"/><stop offset="0.88" stop-color="#10091b"/><stop offset="0.92" stop-color="#10091a"/><stop offset="0.96" stop-color="#0f0919"/><stop offset="1" stop-color="#0f0919"/></linearGradient><linearGradient id="g28" gradientUnits="userSpaceOnUse" x1="565.13" y1="0" x2="594.85" y2="0" spreadMethod="reflect"><stop offset="0" stop-color="#fde28c"/><stop offset="0.04" stop-color="#fcd877"/><stop offset="0.08" stop-color="#fabb3c"/><stop offset="0.12" stop-color="#f58e22"/><stop offset="0.17" stop-color="#e45f2e"/><stop offset="0.21" stop-color="#bd3d54"/><stop offset="0.25" stop-color="#8c2c70"/><stop offset="0.29" stop-color="#652376"/><stop offset="0.33" stop-color="#491a70"/><stop offset="0.38" stop-color="#381559"/><stop offset="0.42" stop-color="#2c1148"/><stop offset="0.46" stop-color="#230e3b"/><stop offset="0.5" stop-color="#1e0d34"/><stop offset="0.54" stop-color="#1b0c2e"/><stop offset="0.58" stop-color="#180b29"/><stop offset="0.62" stop-color="#160b25"/><stop offset="0.67" stop-color="#140a22"/><stop offset="0.71" stop-color="#130a20"/><stop offset="0.75" stop-color="#12091e"/><stop offset="0.79" stop-color="#11091c"/><stop offset="0.83" stop-color="#10091b"/><stop offset="0.88" stop-color="#10091a"/><stop offset="0.92" stop-color="#10091a"/><stop offset="0.96" stop-color="#0f0919"/><stop offset="1" stop-color="#0f0919"/></linearGradient><linearGradient id="g29" gradientUnits="userSpaceOnUse" x1="565.13" y1="0" x2="594.85" y2="0" spreadMethod="reflect"><stop offset="0" stop-color="#feeaad"/><stop offset="0.04" stop-color="#fde38e"/><stop offset="0.08" stop-color="#fbc44d"/><stop offset="0.12" stop-color="#f69423"/><stop offset="0.17" stop-color="#e6612c"/><stop offset="0.21" stop-color="#be3d53"/><stop offset="0.25" stop-color="#8c2c70"/><stop offset="0.29" stop-color="#642276"/><stop offset="0.33" stop-color="#481a70"/><stop offset="0.38" stop-color="#371558"/><stop offset="0.42" stop-color="#2b1147"/><stop offset="0.46" stop-color="#230e3b"/><stop offset="0.5" stop-color="#1e0d33"/><stop offset="0.54" stop-color="#1b0c2e"/><stop offset="0.58" stop-color="#180b29"/><stop offset="0.62" stop-color="#160b25"/><stop offset="0.67" stop-color="#140a22"/><stop offset="0.71" stop-color="#130a1f"/><stop offset="0.75" stop-color="#12091e"/><stop offset="0.79" stop-color="#11091c"/><stop offset="0.83" stop-color="#10091b"/><stop offset="0.88" stop-color="#10091a"/><stop offset="0.92" stop-color="#0f091a"/><stop offset="0.96" stop-color="#0f0919"/><stop offset="1" stop-color="#0f0819"/></linearGradient><linearGradient id="g30" gradientUnits="userSpaceOnUse" x1="565.13" y1="0" x2="594.85" y2="0" spreadMethod="reflect"><stop offset="0" stop-color="#fff8e2"/><stop offset="0.04" stop-color="#feefc0"/><stop offset="0.08" stop-color="#fcd36d"/><stop offset="0.12" stop-color="#f7a02b"/><stop offset="0.17" stop-color="#ea6826"/><stop offset="0.21" stop-color="#c33f4f"/><stop offset="0.25" stop-color="#8e2d6f"/><stop offset="0.29" stop-color="#652376"/><stop offset="0.33" stop-color="#481a70"/><stop offset="0.38" stop-color="#371558"/><stop offset="0.42" stop-color="#2c1148"/><stop offset="0.46" stop-color="#230e3b"/><stop offset="0.5" stop-color="#1e0d34"/><stop offset="0.54" stop-color="#1b0c2e"/><stop offset="0.58" stop-color="#180b29"/><stop offset="0.62" stop-color="#160a25"/><stop offset="0.67" stop-color="#140a22"/><stop offset="0.71" stop-color="#130a1f"/><stop offset="0.75" stop-color="#12091d"/><stop offset="0.79" stop-color="#11091c"/><stop offset="0.83" stop-color="#10091b"/><stop offset="0.88" stop-color="#10091a"/><stop offset="0.92" stop-color="#0f091a"/><stop offset="0.96" stop-color="#0f0919"/><stop offset="1" stop-color="#0f0819"/></linearGradient><linearGradient id="g31" gradientUnits="userSpaceOnUse" x1="565.13" y1="0" x2="594.85" y2="0" spreadMethod="reflect"><stop offset="0" stop-color="#fff8e2"/><stop offset="0.04" stop-color="#feefc0"/><stop offset="0.08" stop-color="#fcd36d"/><stop offset="0.12" stop-color="#f7a02b"/><stop offset="0.17" stop-color="#ea6826"/><stop offset="0.21" stop-color="#c33f4f"/><stop offset="0.25" stop-color="#8e2d6f"/><stop offset="0.29" stop-color="#652376"/><stop offset="0.33" stop-color="#481a70"/><stop offset="0.38" stop-color="#371558"/><stop offset="0.42" stop-color="#2c1148"/><stop offset="0.46" stop-color="#230e3b"/><stop offset="0.5" stop-color="#1e0d34"/><stop offset="0.54" stop-color="#1b0c2e"/><stop offset="0.58" stop-color="#180b29"/><stop offset="0.62" stop-color="#160a25"/><stop offset="0.67" stop-color="#140a22"/><stop offset="0.71" stop-color="#130a1f"/><stop offset="0.75" stop-color="#12091d"/><stop offset="0.79" stop-color="#11091c"/><stop offset="0.83" stop-color="#10091b"/><stop offset="0.88" stop-color="#10091a"/><stop offset="0.92" stop-color="#0f091a"/><stop offset="0.96" stop-color="#0f0919"/><stop offset="1" stop-color="#0f0819"/></linearGradient><linearGradient id="g32" gradientUnits="userSpaceOnUse" x1="565.13" y1="0" x2="594.85" y2="0" spreadMethod="reflect"><stop offset="0" stop-color="#feeaad"/><stop offset="0.04" stop-color="#fde38e"/><stop offset="0.08" stop-color="#fbc44d"/><stop offset="0.12" stop-color="#f69423"/><stop offset="0.17" stop-color="#e6612c"/><stop offset="0.21" stop-color="#be3d53"/><stop offset="0.25" stop-color="#8c2c70"/><stop offset="0.29" stop-color="#642276"/><stop offset="0.33" stop-color="#481a70"/><stop offset="0.38" stop-color="#371558"/><stop offset="0.42" stop-color="#2b1147"/><stop offset="0.46" stop-color="#230e3b"/><stop offset="0.5" stop-color="#1e0d33"/><stop offset="0.54" stop-color="#1b0c2e"/><stop offset="0.58" stop-color="#180b29"/><stop offset="0.62" stop-color="#160b25"/><stop offset="0.67" stop-color="#140a22"/><stop offset="0.71" stop-color="#130a1f"/><stop offset="0.75" stop-color="#12091e"/><stop offset="0.79" stop-color="#11091c"/><stop offset="0.83" stop-color="#10091b"/><stop offset="0.88" stop-color="#10091a"/><stop offset="0.92" stop-color="#0f091a"/><stop offset="0.96" stop-color="#0f0919"/><stop offset="1" stop-color="#0f0819"/></linearGradient><linearGradient id="g33" gradientUnits="userSpaceOnUse" x1="565.13" y1="0" x2="594.85" y2="0" spreadMethod="reflect"><stop offset="0" stop-color="#fde28c"/><stop offset="0.04" stop-color="#fcd877"/><stop offset="0.08" stop-color="#fabb3c"/><stop offset="0.12" stop-color="#f58e22"/><stop offset="0.17" stop-color="#e45f2e"/><stop offset="0.21" stop-color="#bd3d54"/><stop offset="0.25" stop-color="#8c2c70"/><stop offset="0.29" stop-color="#652376"/><stop offset="0.33" stop-color="#491a70"/><stop offset="0.38" stop-color="#381559"/><stop offset="0.42" stop-color="#2c1148"/><stop offset="0.46" stop-color="#230e3b"/><stop offset="0.5" stop-color="#1e0d34"/><stop offset="0.54" stop-color="#1b0c2e"/><stop offset="0.58" stop-color="#180b29"/><stop offset="0.62" stop-color="#160b25"/><stop offset="0.67" stop-color="#140a22"/><stop offset="0.71" stop-color="#130a20"/><stop offset="0.75" stop-color="#12091e"/><stop offset="0.79" stop-color="#11091c"/><stop offset="0.83" stop-color="#10091b"/><stop offset="0.88" stop-color="#10091a"/><stop offset="0.92" stop-color="#10091a"/><stop offset="0.96" stop-color="#0f0919"/><stop offset="1" stop-color="#0f0919"/></linearGradient><linearGradient id="g34" gradientUnits="userSpaceOnUse" x1="565.13" y1="0" x2="594.85" y2="0" spreadMethod="reflect"><stop offset="0" stop-color="#fcd066"/><stop offset="0.04" stop-color="#fbc752"/><stop offset="0.08" stop-color="#f8ab31"/><stop offset="0.12" stop-color="#f28223"/><stop offset="0.17" stop-color="#df5834"/><stop offset="0.21" stop-color="#b83a58"/><stop offset="0.25" stop-color="#892c72"/><stop offset="0.29" stop-color="#632276"/><stop offset="0.33" stop-color="#481a70"/><stop offset="0.38" stop-color="#371558"/><stop offset="0.42" stop-color="#2b1147"/><stop offset="0.46" stop-color="#230e3b"/><stop offset="0.5" stop-color="#1e0d34"/><stop offset="0.54" stop-color="#1b0c2e"/><stop offset="0.58" stop-color="#180b29"/><stop offset="0.62" stop-color="#160b26"/><stop offset="0.67" stop-color="#150a22"/><stop offset="0.71" stop-color="#130a20"/><stop offset="0.75" stop-color="#12091e"/><stop offset="0.79" stop-color="#11091d"/><stop offset="0.83" stop-color="#11091b"/><stop offset="0.88" stop-color="#10091b"/><stop offset="0.92" stop-color="#10091a"/><stop offset="0.96" stop-color="#0f0919"/><stop offset="1" stop-color="#0f0919"/></linearGradient><linearGradient id="g35" gradientUnits="userSpaceOnUse" x1="565.13" y1="0" x2="594.85" y2="0" spreadMethod="reflect"><stop offset="0" stop-color="#fbcb5b"/><stop offset="0.04" stop-color="#fac249"/><stop offset="0.08" stop-color="#f8a72f"/><stop offset="0.12" stop-color="#f28123"/><stop offset="0.17" stop-color="#df5834"/><stop offset="0.21" stop-color="#ba3b56"/><stop offset="0.25" stop-color="#8c2c70"/><stop offset="0.29" stop-color="#662377"/><stop offset="0.33" stop-color="#4a1b70"/><stop offset="0.38" stop-color="#39155b"/><stop offset="0.42" stop-color="#2d1149"/><stop offset="0.46" stop-color="#240f3c"/><stop offset="0.5" stop-color="#1f0d34"/><stop offset="0.54" stop-color="#1b0c2f"/><stop offset="0.58" stop-color="#190b2a"/><stop offset="0.62" stop-color="#170b26"/><stop offset="0.67" stop-color="#150a23"/><stop offset="0.71" stop-color="#130a20"/><stop offset="0.75" stop-color="#12091e"/><stop offset="0.79" stop-color="#11091d"/><stop offset="0.83" stop-color="#11091c"/><stop offset="0.88" stop-color="#10091b"/><stop offset="0.92" stop-color="#10091a"/><stop offset="0.96" stop-color="#0f091a"/><stop offset="1" stop-color="#0f0919"/></linearGradient><linearGradient id="g36" gradientUnits="userSpaceOnUse" x1="565.13" y1="0" x2="594.85" y2="0" spreadMethod="reflect"><stop offset="0" stop-color="#fac146"/><stop offset="0.04" stop-color="#fab83a"/><stop offset="0.08" stop-color="#f79f2a"/><stop offset="0.12" stop-color="#f07b23"/><stop offset="0.17" stop-color="#dd5536"/><stop offset="0.21" stop-color="#b83a58"/><stop offset="0.25" stop-color="#8c2c70"/><stop offset="0.29" stop-color="#672377"/><stop offset="0.33" stop-color="#4b1b71"/><stop offset="0.38" stop-color="#3a155b"/><stop offset="0.42" stop-color="#2d124a"/><stop offset="0.46" stop-color="#240f3d"/><stop offset="0.5" stop-color="#1f0d35"/><stop offset="0.54" stop-color="#1c0c2f"/><stop offset="0.58" stop-color="#190b2a"/><stop offset="0.62" stop-color="#170b26"/><stop offset="0.67" stop-color="#150a23"/><stop offset="0.71" stop-color="#140a21"/><stop offset="0.75" stop-color="#12091f"/><stop offset="0.79" stop-color="#12091d"/><stop offset="0.83" stop-color="#11091c"/><stop offset="0.88" stop-color="#10091b"/><stop offset="0.92" stop-color="#10091a"/><stop offset="0.96" stop-color="#10091a"/><stop offset="1" stop-color="#0f0919"/></linearGradient><linearGradient id="g37" gradientUnits="userSpaceOnUse" x1="565.13" y1="0" x2="594.85" y2="0" spreadMethod="reflect"><stop offset="0" stop-color="#f9b236"/><stop offset="0.04" stop-color="#f8aa31"/><stop offset="0.08" stop-color="#f69222"/><stop offset="0.12" stop-color="#ee7224"/><stop offset="0.17" stop-color="#da503b"/><stop offset="0.21" stop-color="#b4385b"/><stop offset="0.25" stop-color="#892c71"/><stop offset="0.29" stop-color="#662376"/><stop offset="0.33" stop-color="#4b1b71"/><stop offset="0.38" stop-color="#39155b"/><stop offset="0.42" stop-color="#2d124a"/><stop offset="0.46" stop-color="#240f3d"/><stop offset="0.5" stop-color="#1f0d35"/><stop offset="0.54" stop-color="#1c0c2f"/><stop offset="0.58" stop-color="#190b2a"/><stop offset="0.62" stop-color="#170b27"/><stop offset="0.67" stop-color="#150a24"/><stop offset="0.71" stop-color="#140a21"/><stop offset="0.75" stop-color="#13091f"/><stop offset="0.79" stop-color="#12091d"/><stop offset="0.83" stop-color="#11091c"/><stop offset="0.88" stop-color="#10091b"/><stop offset="0.92" stop-color="#10091a"/><stop offset="0.96" stop-color="#10091a"/><stop offset="1" stop-color="#0f0919"/></linearGradient><linearGradient id="g38" gradientUnits="userSpaceOnUse" x1="565.13" y1="0" x2="594.85" y2="0" spreadMethod="reflect"><stop offset="0" stop-color="#f8a72f"/><stop offset="0.04" stop-color="#f79f2a"/><stop offset="0.08" stop-color="#f48a22"/><stop offset="0.12" stop-color="#ec6b24"/><stop offset="0.17" stop-color="#d74d3e"/><stop offset="0.21" stop-color="#b1375d"/><stop offset="0.25" stop-color="#882c72"/><stop offset="0.29" stop-color="#662376"/><stop offset="0.33" stop-color="#4b1b71"/><stop offset="0.38" stop-color="#3a165c"/><stop offset="0.42" stop-color="#2e124a"/><stop offset="0.46" stop-color="#240f3d"/><stop offset="0.5" stop-color="#1f0d35"/><stop offset="0.54" stop-color="#1c0c2f"/><stop offset="0.58" stop-color="#190b2b"/><stop offset="0.62" stop-color="#170b27"/><stop offset="0.67" stop-color="#150a24"/><stop offset="0.71" stop-color="#140a21"/><stop offset="0.75" stop-color="#130a1f"/><stop offset="0.79" stop-color="#12091e"/><stop offset="0.83" stop-color="#11091c"/><stop offset="0.88" stop-color="#10091b"/><stop offset="0.92" stop-color="#10091a"/><stop offset="0.96" stop-color="#10091a"/><stop offset="1" stop-color="#0f0919"/></linearGradient><linearGradient id="g39" gradientUnits="userSpaceOnUse" x1="565.13" y1="0" x2="594.85" y2="0" spreadMethod="reflect"><stop offset="0" stop-color="#f8a42d"/><stop offset="0.04" stop-color="#f79c28"/><stop offset="0.08" stop-color="#f48822"/><stop offset="0.12" stop-color="#ec6b24"/><stop offset="0.17" stop-color="#d84d3d"/><stop offset="0.21" stop-color="#b3385b"/><stop offset="0.25" stop-color="#8b2c71"/><stop offset="0.29" stop-color="#682477"/><stop offset="0.33" stop-color="#4e1c71"/><stop offset="0.38" stop-color="#3c165f"/><stop offset="0.42" stop-color="#2f124c"/><stop offset="0.46" stop-color="#260f3f"/><stop offset="0.5" stop-color="#200d36"/><stop offset="0.54" stop-color="#1c0c30"/><stop offset="0.58" stop-color="#1a0c2b"/><stop offset="0.62" stop-color="#170b27"/><stop offset="0.67" stop-color="#160a24"/><stop offset="0.71" stop-color="#140a22"/><stop offset="0.75" stop-color="#130a20"/><stop offset="0.79" stop-color="#12091e"/><stop offset="0.83" stop-color="#11091d"/><stop offset="0.88" stop-color="#11091b"/><stop offset="0.92" stop-color="#10091b"/><stop offset="0.96" stop-color="#10091a"/><stop offset="1" stop-color="#0f091a"/></linearGradient><linearGradient id="g40" gradientUnits="userSpaceOnUse" x1="565.13" y1="0" x2="594.85" y2="0" spreadMethod="reflect"><stop offset="0" stop-color="#f79a27"/><stop offset="0.04" stop-color="#f69423"/><stop offset="0.08" stop-color="#f28123"/><stop offset="0.12" stop-color="#e96627"/><stop offset="0.17" stop-color="#d64a40"/><stop offset="0.21" stop-color="#b1375d"/><stop offset="0.25" stop-color="#8b2c71"/><stop offset="0.29" stop-color="#692477"/><stop offset="0.33" stop-color="#4e1c71"/><stop offset="0.38" stop-color="#3c165f"/><stop offset="0.42" stop-color="#30124d"/><stop offset="0.46" stop-color="#260f40"/><stop offset="0.5" stop-color="#200d36"/><stop offset="0.54" stop-color="#1c0c30"/><stop offset="0.58" stop-color="#1a0c2c"/><stop offset="0.62" stop-color="#180b28"/><stop offset="0.67" stop-color="#160a25"/><stop offset="0.71" stop-color="#140a22"/><stop offset="0.75" stop-color="#130a20"/><stop offset="0.79" stop-color="#12091e"/><stop offset="0.83" stop-color="#11091d"/><stop offset="0.88" stop-color="#11091c"/><stop offset="0.92" stop-color="#10091b"/><stop offset="0.96" stop-color="#10091a"/><stop offset="1" stop-color="#10091a"/></linearGradient><linearGradient id="g41" gradientUnits="userSpaceOnUse" x1="565.13" y1="0" x2="594.85" y2="0" spreadMethod="reflect"><stop offset="0" stop-color="#f58d22"/><stop offset="0.04" stop-color="#f38723"/><stop offset="0.08" stop-color="#ef7623"/><stop offset="0.12" stop-color="#e45e2e"/><stop offset="0.17" stop-color="#cf4646"/><stop offset="0.21" stop-color="#ac3461"/><stop offset="0.25" stop-color="#872b73"/><stop offset="0.29" stop-color="#672377"/><stop offset="0.33" stop-color="#4d1c71"/><stop offset="0.38" stop-color="#3c165f"/><stop offset="0.42" stop-color="#2f124d"/><stop offset="0.46" stop-color="#260f3f"/><stop offset="0.5" stop-color="#200d36"/><stop offset="0.54" stop-color="#1c0c30"/><stop offset="0.58" stop-color="#1a0c2c"/><stop offset="0.62" stop-color="#180b28"/><stop offset="0.67" stop-color="#160a25"/><stop offset="0.71" stop-color="#140a22"/><stop offset="0.75" stop-color="#130a20"/><stop offset="0.79" stop-color="#12091e"/><stop offset="0.83" stop-color="#11091d"/><stop offset="0.88" stop-color="#11091c"/><stop offset="0.92" stop-color="#10091b"/><stop offset="0.96" stop-color="#10091a"/><stop offset="1" stop-color="#10091a"/></linearGradient><linearGradient id="g42" gradientUnits="userSpaceOnUse" x1="565.13" y1="0" x2="594.85" y2="0" spreadMethod="reflect"><stop offset="0" stop-color="#f17f23"/><stop offset="0.04" stop-color="#f07a23"/><stop offset="0.08" stop-color="#ec6a24"/><stop offset="0.12" stop-color="#de5635"/><stop offset="0.17" stop-color="#c7424c"/><stop offset="0.21" stop-color="#a63265"/><stop offset="0.25" stop-color="#832b74"/><stop offset="0.29" stop-color="#642376"/><stop offset="0.33" stop-color="#4c1b71"/><stop offset="0.38" stop-color="#3b165e"/><stop offset="0.42" stop-color="#2f124c"/><stop offset="0.46" stop-color="#260f3f"/><stop offset="0.5" stop-color="#200d36"/><stop offset="0.54" stop-color="#1c0c30"/><stop offset="0.58" stop-color="#1a0c2b"/><stop offset="0.62" stop-color="#180b28"/><stop offset="0.67" stop-color="#160a25"/><stop offset="0.71" stop-color="#140a22"/><stop offset="0.75" stop-color="#130a20"/><stop offset="0.79" stop-color="#12091e"/><stop offset="0.83" stop-color="#11091d"/><stop offset="0.88" stop-color="#11091c"/><stop offset="0.92" stop-color="#10091b"/><stop offset="0.96" stop-color="#10091a"/><stop offset="1" stop-color="#10091a"/></linearGradient><linearGradient id="g43" gradientUnits="userSpaceOnUse" x1="565.13" y1="0" x2="594.85" y2="0" spreadMethod="reflect"><stop offset="0" stop-color="#ef7623"/><stop offset="0.04" stop-color="#ee7124"/><stop offset="0.08" stop-color="#e86429"/><stop offset="0.12" stop-color="#db513a"/><stop offset="0.17" stop-color="#c33f4f"/><stop offset="0.21" stop-color="#a33166"/><stop offset="0.25" stop-color="#812a75"/><stop offset="0.29" stop-color="#642276"/><stop offset="0.33" stop-color="#4c1b71"/><stop offset="0.38" stop-color="#3b165e"/><stop offset="0.42" stop-color="#2f124d"/><stop offset="0.46" stop-color="#260f3f"/><stop offset="0.5" stop-color="#200d36"/><stop offset="0.54" stop-color="#1c0c30"/><stop offset="0.58" stop-color="#1a0c2c"/><stop offset="0.62" stop-color="#180b28"/><stop offset="0.67" stop-color="#160a25"/><stop offset="0.71" stop-color="#140a22"/><stop offset="0.75" stop-color="#130a20"/><stop offset="0.79" stop-color="#12091f"/><stop offset="0.83" stop-color="#12091d"/><stop offset="0.88" stop-color="#11091c"/><stop offset="0.92" stop-color="#10091b"/><stop offset="0.96" stop-color="#10091a"/><stop offset="1" stop-color="#10091a"/></linearGradient><linearGradient id="g44" gradientUnits="userSpaceOnUse" x1="565.13" y1="0" x2="594.85" y2="0" spreadMethod="reflect"><stop offset="0" stop-color="#ee7424"/><stop offset="0.04" stop-color="#ed6f24"/><stop offset="0.08" stop-color="#e7622b"/><stop offset="0.12" stop-color="#da503b"/><stop offset="0.17" stop-color="#c33f4f"/><stop offset="0.21" stop-color="#a43166"/><stop offset="0.25" stop-color="#832b74"/><stop offset="0.29" stop-color="#662376"/><stop offset="0.33" stop-color="#4e1c71"/><stop offset="0.38" stop-color="#3d1760"/><stop offset="0.42" stop-color="#30134e"/><stop offset="0.46" stop-color="#271041"/><stop offset="0.5" stop-color="#200e37"/><stop offset="0.54" stop-color="#1d0d31"/><stop offset="0.58" stop-color="#1a0c2c"/><stop offset="0.62" stop-color="#180b28"/><stop offset="0.67" stop-color="#160b25"/><stop offset="0.71" stop-color="#150a23"/><stop offset="0.75" stop-color="#140a21"/><stop offset="0.79" stop-color="#13091f"/><stop offset="0.83" stop-color="#12091d"/><stop offset="0.88" stop-color="#11091c"/><stop offset="0.92" stop-color="#11091b"/><stop offset="0.96" stop-color="#10091b"/><stop offset="1" stop-color="#10091a"/></linearGradient><linearGradient id="g45" gradientUnits="userSpaceOnUse" x1="565.13" y1="0" x2="594.85" y2="0" spreadMethod="reflect"><stop offset="0" stop-color="#ec6a24"/><stop offset="0.04" stop-color="#e96628"/><stop offset="0.08" stop-color="#e15b31"/><stop offset="0.12" stop-color="#d64a40"/><stop offset="0.17" stop-color="#bd3c54"/><stop offset="0.21" stop-color="#9f3068"/><stop offset="0.25" stop-color="#802a76"/><stop offset="0.29" stop-color="#642376"/><stop offset="0.33" stop-color="#4d1c71"/><stop offset="0.38" stop-color="#3d1660"/><stop offset="0.42" stop-color="#30134e"/><stop offset="0.46" stop-color="#271041"/><stop offset="0.5" stop-color="#200e37"/><stop offset="0.54" stop-color="#1d0d31"/><stop offset="0.58" stop-color="#1a0c2c"/><stop offset="0.62" stop-color="#180b29"/><stop offset="0.67" stop-color="#160b25"/><stop offset="0.71" stop-color="#150a23"/><stop offset="0.75" stop-color="#140a21"/><stop offset="0.79" stop-color="#130a1f"/><stop offset="0.83" stop-color="#12091e"/><stop offset="0.88" stop-color="#11091c"/><stop offset="0.92" stop-color="#11091c"/><stop offset="0.96" stop-color="#10091b"/><stop offset="1" stop-color="#10091a"/></linearGradient><linearGradient id="g46" gradientUnits="userSpaceOnUse" x1="565.13" y1="0" x2="594.85" y2="0" spreadMethod="reflect"><stop offset="0" stop-color="#e35d2f"/><stop offset="0.04" stop-color="#e15a32"/><stop offset="0.08" stop-color="#da503b"/><stop offset="0.12" stop-color="#cb4349"/><stop offset="0.17" stop-color="#b3375c"/><stop offset="0.21" stop-color="#972f6c"/><stop offset="0.25" stop-color="#792979"/><stop offset="0.29" stop-color="#602175"/><stop offset="0.33" stop-color="#4a1b70"/><stop offset="0.38" stop-color="#3b165e"/><stop offset="0.42" stop-color="#2f124d"/><stop offset="0.46" stop-color="#260f40"/><stop offset="0.5" stop-color="#200d37"/><stop offset="0.54" stop-color="#1d0c31"/><stop offset="0.58" stop-color="#1a0c2c"/><stop offset="0.62" stop-color="#180b28"/><stop offset="0.67" stop-color="#160b25"/><stop offset="0.71" stop-color="#150a23"/><stop offset="0.75" stop-color="#140a21"/><stop offset="0.79" stop-color="#130a1f"/><stop offset="0.83" stop-color="#12091e"/><stop offset="0.88" stop-color="#11091c"/><stop offset="0.92" stop-color="#11091c"/><stop offset="0.96" stop-color="#10091b"/><stop offset="1" stop-color="#10091a"/></linearGradient><linearGradient id="g47" gradientUnits="userSpaceOnUse" x1="565.13" y1="0" x2="594.85" y2="0" spreadMethod="reflect"><stop offset="0" stop-color="#db5239"/><stop offset="0.04" stop-color="#d94f3c"/><stop offset="0.08" stop-color="#d14744"/><stop offset="0.12" stop-color="#bf3e52"/><stop offset="0.17" stop-color="#a93363"/><stop offset="0.21" stop-color="#8e2d6f"/><stop offset="0.25" stop-color="#732779"/><stop offset="0.29" stop-color="#5c2074"/><stop offset="0.33" stop-color="#481a6f"/><stop offset="0.38" stop-color="#39155b"/><stop offset="0.42" stop-color="#2e124b"/><stop offset="0.46" stop-color="#250f3e"/><stop offset="0.5" stop-color="#200d36"/><stop offset="0.54" stop-color="#1c0c30"/><stop offset="0.58" stop-color="#1a0c2b"/><stop offset="0.62" stop-color="#180b28"/><stop offset="0.67" stop-color="#160a25"/><stop offset="0.71" stop-color="#150a23"/><stop offset="0.75" stop-color="#130a21"/><stop offset="0.79" stop-color="#13091f"/><stop offset="0.83" stop-color="#12091e"/><stop offset="0.88" stop-color="#11091d"/><stop offset="0.92" stop-color="#11091c"/><stop offset="0.96" stop-color="#10091b"/><stop offset="1" stop-color="#10091a"/></linearGradient><linearGradient id="g48" gradientUnits="userSpaceOnUse" x1="565.13" y1="0" x2="594.85" y2="0" spreadMethod="reflect"><stop offset="0" stop-color="#d74c3f"/><stop offset="0.04" stop-color="#d44941"/><stop offset="0.08" stop-color="#ca434a"/><stop offset="0.12" stop-color="#b93b57"/><stop offset="0.17" stop-color="#a43166"/><stop offset="0.21" stop-color="#8a2c71"/><stop offset="0.25" stop-color="#712679"/><stop offset="0.29" stop-color="#5b2074"/><stop offset="0.33" stop-color="#471a6f"/><stop offset="0.38" stop-color="#39155b"/><stop offset="0.42" stop-color="#2e124b"/><stop offset="0.46" stop-color="#250f3f"/><stop offset="0.5" stop-color="#200d36"/><stop offset="0.54" stop-color="#1c0c30"/><stop offset="0.58" stop-color="#1a0c2c"/><stop offset="0.62" stop-color="#180b28"/><stop offset="0.67" stop-color="#160b25"/><stop offset="0.71" stop-color="#150a23"/><stop offset="0.75" stop-color="#140a21"/><stop offset="0.79" stop-color="#130a1f"/><stop offset="0.83" stop-color="#12091e"/><stop offset="0.88" stop-color="#11091d"/><stop offset="0.92" stop-color="#11091c"/><stop offset="0.96" stop-color="#10091b"/><stop offset="1" stop-color="#10091a"/></linearGradient><linearGradient id="g49" gradientUnits="userSpaceOnUse" x1="565.13" y1="0" x2="594.85" y2="0" spreadMethod="reflect"><stop offset="0" stop-color="#d54941"/><stop offset="0.04" stop-color="#d14744"/><stop offset="0.08" stop-color="#c7424c"/><stop offset="0.12" stop-color="#b73a58"/><stop offset="0.17" stop-color="#a23166"/><stop offset="0.21" stop-color="#8a2c71"/><stop offset="0.25" stop-color="#712679"/><stop offset="0.29" stop-color="#5b2074"/><stop offset="0.33" stop-color="#481a70"/><stop offset="0.38" stop-color="#3a165c"/><stop offset="0.42" stop-color="#2f124c"/><stop offset="0.46" stop-color="#260f40"/><stop offset="0.5" stop-color="#200d37"/><stop offset="0.54" stop-color="#1d0c31"/><stop offset="0.58" stop-color="#1a0c2c"/><stop offset="0.62" stop-color="#180b28"/><stop offset="0.67" stop-color="#160b25"/><stop offset="0.71" stop-color="#150a23"/><stop offset="0.75" stop-color="#140a21"/><stop offset="0.79" stop-color="#130a1f"/><stop offset="0.83" stop-color="#12091e"/><stop offset="0.88" stop-color="#11091d"/><stop offset="0.92" stop-color="#11091c"/><stop offset="0.96" stop-color="#10091b"/><stop offset="1" stop-color="#10091a"/></linearGradient><linearGradient id="g50" gradientUnits="userSpaceOnUse" x1="565.13" y1="0" x2="594.85" y2="0" spreadMethod="reflect"><stop offset="0" stop-color="#c9434a"/><stop offset="0.04" stop-color="#c6414d"/><stop offset="0.08" stop-color="#bd3c54"/><stop offset="0.12" stop-color="#ae355f"/><stop offset="0.17" stop-color="#9a2f6a"/><stop offset="0.21" stop-color="#832b74"/><stop offset="0.25" stop-color="#6c2578"/><stop offset="0.29" stop-color="#581f73"/><stop offset="0.33" stop-color="#46196d"/><stop offset="0.38" stop-color="#39155a"/><stop offset="0.42" stop-color="#2e124b"/><stop offset="0.46" stop-color="#250f3f"/><stop offset="0.5" stop-color="#200d36"/><stop offset="0.54" stop-color="#1c0c30"/><stop offset="0.58" stop-color="#1a0c2c"/><stop offset="0.62" stop-color="#180b28"/><stop offset="0.67" stop-color="#160b25"/><stop offset="0.71" stop-color="#150a23"/><stop offset="0.75" stop-color="#140a21"/><stop offset="0.79" stop-color="#130a1f"/><stop offset="0.83" stop-color="#12091e"/><stop offset="0.88" stop-color="#11091d"/><stop offset="0.92" stop-color="#11091c"/><stop offset="0.96" stop-color="#10091b"/><stop offset="1" stop-color="#10091b"/></linearGradient><linearGradient id="g51" gradientUnits="userSpaceOnUse" x1="565.13" y1="0" x2="594.85" y2="0" spreadMethod="reflect"><stop offset="0" stop-color="#ba3b56"/><stop offset="0.04" stop-color="#b73a58"/><stop offset="0.08" stop-color="#af355f"/><stop offset="0.12" stop-color="#a03067"/><stop offset="0.17" stop-color="#8e2d70"/><stop offset="0.21" stop-color="#792979"/><stop offset="0.25" stop-color="#652376"/><stop offset="0.29" stop-color="#521d72"/><stop offset="0.33" stop-color="#421868"/><stop offset="0.38" stop-color="#361457"/><stop offset="0.42" stop-color="#2c1148"/><stop offset="0.46" stop-color="#240f3d"/><stop offset="0.5" stop-color="#1f0d35"/><stop offset="0.54" stop-color="#1c0c2f"/><stop offset="0.58" stop-color="#190b2b"/><stop offset="0.62" stop-color="#170b28"/><stop offset="0.67" stop-color="#160a25"/><stop offset="0.71" stop-color="#150a23"/><stop offset="0.75" stop-color="#140a21"/><stop offset="0.79" stop-color="#130a1f"/><stop offset="0.83" stop-color="#12091e"/><stop offset="0.88" stop-color="#11091d"/><stop offset="0.92" stop-color="#11091c"/><stop offset="0.96" stop-color="#10091b"/><stop offset="1" stop-color="#10091b"/></linearGradient><linearGradient id="g52" gradientUnits="userSpaceOnUse" x1="565.13" y1="0" x2="594.85" y2="0" spreadMethod="reflect"><stop offset="0" stop-color="#ab3461"/><stop offset="0.04" stop-color="#a93264"/><stop offset="0.08" stop-color="#a03067"/><stop offset="0.12" stop-color="#932e6d"/><stop offset="0.17" stop-color="#822a75"/><stop offset="0.21" stop-color="#6f2679"/><stop offset="0.25" stop-color="#5e2175"/><stop offset="0.29" stop-color="#4d1b71"/><stop offset="0.33" stop-color="#3f1763"/><stop offset="0.38" stop-color="#341453"/><stop offset="0.42" stop-color="#2a1146"/><stop offset="0.46" stop-color="#220e3b"/><stop offset="0.5" stop-color="#1e0d34"/><stop offset="0.54" stop-color="#1b0c2e"/><stop offset="0.58" stop-color="#190b2a"/><stop offset="0.62" stop-color="#170b27"/><stop offset="0.67" stop-color="#160a24"/><stop offset="0.71" stop-color="#140a22"/><stop offset="0.75" stop-color="#130a20"/><stop offset="0.79" stop-color="#13091f"/><stop offset="0.83" stop-color="#12091e"/><stop offset="0.88" stop-color="#11091d"/><stop offset="0.92" stop-color="#11091c"/><stop offset="0.96" stop-color="#10091b"/><stop offset="1" stop-color="#10091b"/></linearGradient><linearGradient id="g53" gradientUnits="userSpaceOnUse" x1="565.13" y1="0" x2="594.85" y2="0" spreadMethod="reflect"><stop offset="0" stop-color="#a13167"/><stop offset="0.04" stop-color="#9e3068"/><stop offset="0.08" stop-color="#962e6c"/><stop offset="0.12" stop-color="#8a2c71"/><stop offset="0.17" stop-color="#7a2978"/><stop offset="0.21" stop-color="#6a2477"/><stop offset="0.25" stop-color="#591f74"/><stop offset="0.29" stop-color="#491a70"/><stop offset="0.33" stop-color="#3d1660"/><stop offset="0.38" stop-color="#321351"/><stop offset="0.42" stop-color="#291044"/><stop offset="0.46" stop-color="#220e3a"/><stop offset="0.5" stop-color="#1e0d33"/><stop offset="0.54" stop-color="#1b0c2e"/><stop offset="0.58" stop-color="#190b2a"/><stop offset="0.62" stop-color="#170b27"/><stop offset="0.67" stop-color="#150a24"/><stop offset="0.71" stop-color="#140a22"/><stop offset="0.75" stop-color="#130a20"/><stop offset="0.79" stop-color="#12091f"/><stop offset="0.83" stop-color="#12091e"/><stop offset="0.88" stop-color="#11091d"/><stop offset="0.92" stop-color="#11091c"/><stop offset="0.96" stop-color="#10091b"/><stop offset="1" stop-color="#10091b"/></linearGradient><linearGradient id="g54" gradientUnits="userSpaceOnUse" x1="565.13" y1="0" x2="594.85" y2="0" spreadMethod="reflect"><stop offset="0" stop-color="#9e3068"/><stop offset="0.04" stop-color="#9c3069"/><stop offset="0.08" stop-color="#942e6d"/><stop offset="0.12" stop-color="#882c72"/><stop offset="0.17" stop-color="#792979"/><stop offset="0.21" stop-color="#6a2477"/><stop offset="0.25" stop-color="#591f74"/><stop offset="0.29" stop-color="#4a1b70"/><stop offset="0.33" stop-color="#3d1761"/><stop offset="0.38" stop-color="#331352"/><stop offset="0.42" stop-color="#2a1045"/><stop offset="0.46" stop-color="#220e3b"/><stop offset="0.5" stop-color="#1e0d34"/><stop offset="0.54" stop-color="#1b0c2f"/><stop offset="0.58" stop-color="#190b2a"/><stop offset="0.62" stop-color="#170b27"/><stop offset="0.67" stop-color="#160a24"/><stop offset="0.71" stop-color="#140a22"/><stop offset="0.75" stop-color="#130a21"/><stop offset="0.79" stop-color="#130a1f"/><stop offset="0.83" stop-color="#12091e"/><stop offset="0.88" stop-color="#11091d"/><stop offset="0.92" stop-color="#11091c"/><stop offset="0.96" stop-color="#10091b"/><stop offset="1" stop-color="#10091b"/></linearGradient><linearGradient id="g55" gradientUnits="userSpaceOnUse" x1="565.13" y1="0" x2="594.85" y2="0" spreadMethod="reflect"><stop offset="0" stop-color="#982f6b"/><stop offset="0.04" stop-color="#962e6c"/><stop offset="0.08" stop-color="#8f2d6f"/><stop offset="0.12" stop-color="#842b74"/><stop offset="0.17" stop-color="#76287a"/><stop offset="0.21" stop-color="#672377"/><stop offset="0.25" stop-color="#571f73"/><stop offset="0.29" stop-color="#481a70"/><stop offset="0.33" stop-color="#3d1660"/><stop offset="0.38" stop-color="#331351"/><stop offset="0.42" stop-color="#2a1045"/><stop offset="0.46" stop-color="#220e3b"/><stop offset="0.5" stop-color="#1e0d34"/><stop offset="0.54" stop-color="#1b0c2f"/><stop offset="0.58" stop-color="#190b2a"/><stop offset="0.62" stop-color="#170b27"/><stop offset="0.67" stop-color="#160a24"/><stop offset="0.71" stop-color="#140a22"/><stop offset="0.75" stop-color="#130a21"/><stop offset="0.79" stop-color="#130a1f"/><stop offset="0.83" stop-color="#12091e"/><stop offset="0.88" stop-color="#11091d"/><stop offset="0.92" stop-color="#11091c"/><stop offset="0.96" stop-color="#10091b"/><stop offset="1" stop-color="#10091b"/></linearGradient><linearGradient id="g56" gradientUnits="userSpaceOnUse" x1="565.13" y1="0" x2="594.85" y2="0" spreadMethod="reflect"><stop offset="0" stop-color="#8e2d6f"/><stop offset="0.04" stop-color="#8c2c70"/><stop offset="0.08" stop-color="#852b73"/><stop offset="0.12" stop-color="#7b2978"/><stop offset="0.17" stop-color="#6f2678"/><stop offset="0.21" stop-color="#612275"/><stop offset="0.25" stop-color="#531d72"/><stop offset="0.29" stop-color="#45196c"/><stop offset="0.33" stop-color="#3b165d"/><stop offset="0.38" stop-color="#31134f"/><stop offset="0.42" stop-color="#291043"/><stop offset="0.46" stop-color="#220e3a"/><stop offset="0.5" stop-color="#1e0d33"/><stop offset="0.54" stop-color="#1b0c2e"/><stop offset="0.58" stop-color="#190b2a"/><stop offset="0.62" stop-color="#170b27"/><stop offset="0.67" stop-color="#160a24"/><stop offset="0.71" stop-color="#140a22"/><stop offset="0.75" stop-color="#130a20"/><stop offset="0.79" stop-color="#130a1f"/><stop offset="0.83" stop-color="#12091e"/><stop offset="0.88" stop-color="#11091d"/><stop offset="0.92" stop-color="#11091c"/><stop offset="0.96" stop-color="#10091b"/><stop offset="1" stop-color="#10091b"/></linearGradient><linearGradient id="g57" gradientUnits="userSpaceOnUse" x1="565.13" y1="0" x2="594.85" y2="0" spreadMethod="reflect"><stop offset="0" stop-color="#822a75"/><stop offset="0.04" stop-color="#802a76"/><stop offset="0.08" stop-color="#7a2978"/><stop offset="0.12" stop-color="#712779"/><stop offset="0.17" stop-color="#662377"/><stop offset="0.21" stop-color="#5a1f74"/><stop offset="0.25" stop-color="#4d1c71"/><stop offset="0.29" stop-color="#421867"/><stop offset="0.33" stop-color="#381559"/><stop offset="0.38" stop-color="#2f124c"/><stop offset="0.42" stop-color="#271041"/><stop offset="0.46" stop-color="#210e38"/><stop offset="0.5" stop-color="#1d0d32"/><stop offset="0.54" stop-color="#1b0c2d"/><stop offset="0.58" stop-color="#180b29"/><stop offset="0.62" stop-color="#170b26"/><stop offset="0.67" stop-color="#150a24"/><stop offset="0.71" stop-color="#140a22"/><stop offset="0.75" stop-color="#130a20"/><stop offset="0.79" stop-color="#12091f"/><stop offset="0.83" stop-color="#12091e"/><stop offset="0.88" stop-color="#11091d"/><stop offset="0.92" stop-color="#11091c"/><stop offset="0.96" stop-color="#10091b"/><stop offset="1" stop-color="#10091b"/></linearGradient><linearGradient id="g58" gradientUnits="userSpaceOnUse" x1="565.13" y1="0" x2="594.85" y2="0" spreadMethod="reflect"><stop offset="0" stop-color="#76287a"/><stop offset="0.04" stop-color="#74277a"/><stop offset="0.08" stop-color="#6f2679"/><stop offset="0.12" stop-color="#682477"/><stop offset="0.17" stop-color="#5e2175"/><stop offset="0.21" stop-color="#531d72"/><stop offset="0.25" stop-color="#471a6f"/><stop offset="0.29" stop-color="#3e1761"/><stop offset="0.33" stop-color="#341454"/><stop offset="0.38" stop-color="#2c1148"/><stop offset="0.42" stop-color="#250f3e"/><stop offset="0.46" stop-color="#200d36"/><stop offset="0.5" stop-color="#1d0c31"/><stop offset="0.54" stop-color="#1a0c2c"/><stop offset="0.58" stop-color="#180b29"/><stop offset="0.62" stop-color="#160b26"/><stop offset="0.67" stop-color="#150a23"/><stop offset="0.71" stop-color="#140a21"/><stop offset="0.75" stop-color="#130a20"/><stop offset="0.79" stop-color="#12091f"/><stop offset="0.83" stop-color="#12091d"/><stop offset="0.88" stop-color="#11091d"/><stop offset="0.92" stop-color="#11091c"/><stop offset="0.96" stop-color="#10091b"/><stop offset="1" stop-color="#10091b"/></linearGradient><linearGradient id="g59" gradientUnits="userSpaceOnUse" x1="565.13" y1="0" x2="594.85" y2="0" spreadMethod="reflect"><stop offset="0" stop-color="#6c2578"/><stop offset="0.04" stop-color="#6b2578"/><stop offset="0.08" stop-color="#662377"/><stop offset="0.12" stop-color="#602175"/><stop offset="0.17" stop-color="#571e73"/><stop offset="0.21" stop-color="#4d1b71"/><stop offset="0.25" stop-color="#431869"/><stop offset="0.29" stop-color="#3a165c"/><stop offset="0.33" stop-color="#321350"/><stop offset="0.38" stop-color="#2a1145"/><stop offset="0.42" stop-color="#230e3c"/><stop offset="0.46" stop-color="#1f0d35"/><stop offset="0.5" stop-color="#1c0c30"/><stop offset="0.54" stop-color="#1a0c2b"/><stop offset="0.58" stop-color="#180b28"/><stop offset="0.62" stop-color="#160b25"/><stop offset="0.67" stop-color="#150a23"/><stop offset="0.71" stop-color="#140a21"/><stop offset="0.75" stop-color="#130a20"/><stop offset="0.79" stop-color="#12091e"/><stop offset="0.83" stop-color="#12091d"/><stop offset="0.88" stop-color="#11091c"/><stop offset="0.92" stop-color="#11091c"/><stop offset="0.96" stop-color="#10091b"/><stop offset="1" stop-color="#10091b"/></linearGradient><linearGradient id="g60" gradientUnits="userSpaceOnUse" x1="565.13" y1="0" x2="594.85" y2="0" spreadMethod="reflect"><stop offset="0" stop-color="#672377"/><stop offset="0.04" stop-color="#652376"/><stop offset="0.08" stop-color="#612275"/><stop offset="0.12" stop-color="#5b2074"/><stop offset="0.17" stop-color="#531d72"/><stop offset="0.21" stop-color="#491a70"/><stop offset="0.25" stop-color="#411866"/><stop offset="0.29" stop-color="#38155a"/><stop offset="0.33" stop-color="#30134e"/><stop offset="0.38" stop-color="#291044"/><stop offset="0.42" stop-color="#230e3b"/><stop offset="0.46" stop-color="#1f0d35"/><stop offset="0.5" stop-color="#1c0c2f"/><stop offset="0.54" stop-color="#1a0c2b"/><stop offset="0.58" stop-color="#180b28"/><stop offset="0.62" stop-color="#160b25"/><stop offset="0.67" stop-color="#150a23"/><stop offset="0.71" stop-color="#140a21"/><stop offset="0.75" stop-color="#130a20"/><stop offset="0.79" stop-color="#12091e"/><stop offset="0.83" stop-color="#12091d"/><stop offset="0.88" stop-color="#11091c"/><stop offset="0.92" stop-color="#11091c"/><stop offset="0.96" stop-color="#10091b"/><stop offset="1" stop-color="#10091b"/></linearGradient><linearGradient id="g61" gradientUnits="userSpaceOnUse" x1="547.9" y1="0" x2="640.6" y2="0" spreadMethod="pad"><stop offset="0" stop-color="#0a0710"/><stop offset="0.03" stop-color="#10091a"/><stop offset="0.05" stop-color="#160a25"/><stop offset="0.07" stop-color="#1c0c30"/><stop offset="0.1" stop-color="#220e3a"/><stop offset="0.12" stop-color="#2c1148"/><stop offset="0.15" stop-color="#351455"/><stop offset="0.17" stop-color="#3e1762"/><stop offset="0.2" stop-color="#481a70"/><stop offset="0.23" stop-color="#541e72"/><stop offset="0.25" stop-color="#5f2175"/><stop offset="0.28" stop-color="#6b2578"/><stop offset="0.3" stop-color="#76287a"/><stop offset="0.33" stop-color="#822a74"/><stop offset="0.35" stop-color="#8f2d6f"/><stop offset="0.38" stop-color="#9c306a"/><stop offset="0.4" stop-color="#a83264"/><stop offset="0.42" stop-color="#b3375c"/><stop offset="0.45" stop-color="#be3d53"/><stop offset="0.47" stop-color="#c9424b"/><stop offset="0.5" stop-color="#d44842"/><stop offset="0.53" stop-color="#da513a"/><stop offset="0.55" stop-color="#e05933"/><stop offset="0.57" stop-color="#e6612c"/><stop offset="0.6" stop-color="#ec6a24"/><stop offset="0.62" stop-color="#ee7424"/><stop offset="0.65" stop-color="#f17e23"/><stop offset="0.68" stop-color="#f48822"/><stop offset="0.7" stop-color="#f69222"/><stop offset="0.72" stop-color="#f79c28"/><stop offset="0.75" stop-color="#f8a72f"/><stop offset="0.78" stop-color="#f9b236"/><stop offset="0.8" stop-color="#fabc3c"/><stop offset="0.82" stop-color="#fbc550"/><stop offset="0.85" stop-color="#fccf64"/><stop offset="0.88" stop-color="#fcd878"/><stop offset="0.9" stop-color="#fde28c"/><stop offset="0.93" stop-color="#fee9a6"/><stop offset="0.95" stop-color="#fef0c0"/><stop offset="0.97" stop-color="#fef6da"/><stop offset="1" stop-color="#fffdf4"/></linearGradient><linearGradient id="g62" gradientUnits="userSpaceOnUse" x1="594.25" y1="0" x2="623.84" y2="0" spreadMethod="reflect"><stop offset="0" stop-color="#f8a32c"/><stop offset="0.05" stop-color="#f8a930"/><stop offset="0.09" stop-color="#f9b538"/><stop offset="0.14" stop-color="#fabc3c"/><stop offset="0.18" stop-color="#fbc44d"/><stop offset="0.23" stop-color="#fcd36b"/><stop offset="0.27" stop-color="#fcda7c"/><stop offset="0.32" stop-color="#fde18b"/><stop offset="0.36" stop-color="#feebad"/><stop offset="0.41" stop-color="#fef0c0"/><stop offset="0.45" stop-color="#fef2cb"/><stop offset="0.5" stop-color="#fff8df"/><stop offset="0.55" stop-color="#fffaea"/><stop offset="0.59" stop-color="#fff7dc"/><stop offset="0.63" stop-color="#fef0c3"/><stop offset="0.68" stop-color="#feedb6"/><stop offset="0.73" stop-color="#fcda7c"/><stop offset="0.78" stop-color="#fbc44c"/><stop offset="0.83" stop-color="#f8a32c"/><stop offset="0.88" stop-color="#f28223"/><stop offset="1" stop-color="#ec6a24"/></linearGradient><linearGradient id="g63" gradientUnits="userSpaceOnUse" x1="594.25" y1="0" x2="623.84" y2="0" spreadMethod="reflect"><stop offset="0" stop-color="#ee7224"/><stop offset="0.04" stop-color="#ed6f24"/><stop offset="0.08" stop-color="#eb6826"/><stop offset="0.13" stop-color="#e7622b"/><stop offset="0.17" stop-color="#e5602d"/><stop offset="0.21" stop-color="#e15a32"/><stop offset="0.25" stop-color="#d94f3c"/><stop offset="0.3" stop-color="#ce4547"/><stop offset="0.34" stop-color="#c7414c"/><stop offset="0.4" stop-color="#b73a58"/><stop offset="0.46" stop-color="#a83264"/><stop offset="0.5" stop-color="#a03067"/><stop offset="0.55" stop-color="#992f6b"/><stop offset="0.61" stop-color="#a03067"/><stop offset="0.66" stop-color="#a83264"/><stop offset="0.72" stop-color="#ba3b56"/><stop offset="0.78" stop-color="#cb4449"/><stop offset="0.84" stop-color="#d84d3d"/><stop offset="0.9" stop-color="#e05933"/><stop offset="1" stop-color="#e5602d"/></linearGradient><linearGradient id="g64" gradientUnits="userSpaceOnUse" x1="594.25" y1="0" x2="623.84" y2="0" spreadMethod="reflect"><stop offset="0" stop-color="#f8ab32"/><stop offset="0.05" stop-color="#f8a52e"/><stop offset="0.09" stop-color="#f79926"/><stop offset="0.14" stop-color="#f69222"/><stop offset="0.19" stop-color="#ee7424"/><stop offset="0.25" stop-color="#e05933"/><stop offset="0.3" stop-color="#be3d53"/><stop offset="0.34" stop-color="#8f2d6f"/><stop offset="0.41" stop-color="#2a1045"/><stop offset="0.46" stop-color="#11091d"/><stop offset="0.5" stop-color="#0e0816"/><stop offset="0.55" stop-color="#0a0710"/><stop offset="0.6" stop-color="#0e0816"/><stop offset="0.64" stop-color="#11091d"/><stop offset="0.69" stop-color="#2a1045"/><stop offset="0.76" stop-color="#8f2d6f"/><stop offset="0.8" stop-color="#b73a58"/><stop offset="0.85" stop-color="#d94f3c"/><stop offset="0.89" stop-color="#e5602d"/><stop offset="0.93" stop-color="#ee7224"/><stop offset="1" stop-color="#f07a23"/></linearGradient><linearGradient id="g65" gradientUnits="userSpaceOnUse" x1="594.25" y1="0" x2="623.84" y2="0" spreadMethod="reflect"><stop offset="0" stop-color="#f69222"/><stop offset="0.05" stop-color="#f79a27"/><stop offset="0.09" stop-color="#f8a82f"/><stop offset="0.14" stop-color="#f9af34"/><stop offset="0.18" stop-color="#faba3b"/><stop offset="0.23" stop-color="#fbcd5f"/><stop offset="0.27" stop-color="#fcd774"/><stop offset="0.32" stop-color="#fdde85"/><stop offset="0.36" stop-color="#feeaaa"/><stop offset="0.41" stop-color="#fef0c0"/><stop offset="0.45" stop-color="#fef3cc"/><stop offset="0.5" stop-color="#fff8e3"/><stop offset="0.55" stop-color="#fffcef"/><stop offset="0.59" stop-color="#fff8e0"/><stop offset="0.63" stop-color="#fef1c4"/><stop offset="0.68" stop-color="#feedb6"/><stop offset="0.73" stop-color="#fcda7c"/><stop offset="0.78" stop-color="#fbc44c"/><stop offset="0.83" stop-color="#f8a32c"/><stop offset="0.88" stop-color="#f28223"/><stop offset="1" stop-color="#ec6a24"/></linearGradient><linearGradient id="g66" gradientUnits="userSpaceOnUse" x1="623.84" y1="0" x2="653.42" y2="0" spreadMethod="reflect"><stop offset="0" stop-color="#0a0710"/><stop offset="0.05" stop-color="#0b0711"/><stop offset="0.09" stop-color="#0d0814"/><stop offset="0.14" stop-color="#0f0818"/><stop offset="0.19" stop-color="#10091b"/><stop offset="0.24" stop-color="#11091d"/><stop offset="0.28" stop-color="#11091c"/><stop offset="0.33" stop-color="#10091b"/><stop offset="0.37" stop-color="#0f0919"/><stop offset="0.42" stop-color="#0f0818"/><stop offset="0.46" stop-color="#0e0817"/><stop offset="0.51" stop-color="#0e0816"/><stop offset="0.55" stop-color="#0d0815"/><stop offset="0.59" stop-color="#0c0813"/><stop offset="0.63" stop-color="#0b0711"/><stop offset="0.68" stop-color="#0a0710"/><stop offset="1" stop-color="#0a0710"/></linearGradient><linearGradient id="g67" gradientUnits="userSpaceOnUse" x1="623.84" y1="0" x2="653.42" y2="0" spreadMethod="reflect"><stop offset="0" stop-color="#39155a"/><stop offset="0.03" stop-color="#76287a"/><stop offset="0.07" stop-color="#f28223"/><stop offset="0.12" stop-color="#fcd36c"/><stop offset="0.17" stop-color="#fef2ca"/><stop offset="0.24" stop-color="#fffcef"/><stop offset="0.3" stop-color="#fef2ca"/><stop offset="0.35" stop-color="#fcd36c"/><stop offset="0.41" stop-color="#f8a32c"/><stop offset="0.47" stop-color="#ec6a24"/><stop offset="0.54" stop-color="#be3d53"/><stop offset="0.61" stop-color="#802a76"/><stop offset="0.68" stop-color="#511d72"/><stop offset="0.72" stop-color="#44196a"/><stop offset="0.77" stop-color="#2e124b"/><stop offset="0.81" stop-color="#220e3a"/><stop offset="1" stop-color="#140a21"/></linearGradient><linearGradient id="g68" gradientUnits="userSpaceOnUse" x1="623.84" y1="0" x2="653.42" y2="0" spreadMethod="reflect"><stop offset="0" stop-color="#0a0710"/><stop offset="0.05" stop-color="#0b0711"/><stop offset="0.09" stop-color="#0d0814"/><stop offset="0.14" stop-color="#0f0818"/><stop offset="0.19" stop-color="#10091b"/><stop offset="0.24" stop-color="#11091d"/><stop offset="0.28" stop-color="#11091c"/><stop offset="0.33" stop-color="#10091b"/><stop offset="0.37" stop-color="#0f0919"/><stop offset="0.42" stop-color="#0f0818"/><stop offset="0.46" stop-color="#0e0817"/><stop offset="0.51" stop-color="#0e0816"/><stop offset="0.55" stop-color="#0d0815"/><stop offset="0.59" stop-color="#0c0813"/><stop offset="0.63" stop-color="#0b0711"/><stop offset="0.68" stop-color="#0a0710"/><stop offset="1" stop-color="#0a0710"/></linearGradient><linearGradient id="g69" gradientUnits="userSpaceOnUse" x1="623.84" y1="0" x2="653.42" y2="0" spreadMethod="reflect"><stop offset="0" stop-color="#5a2074"/><stop offset="0.03" stop-color="#be3d53"/><stop offset="0.07" stop-color="#f8a72f"/><stop offset="0.11" stop-color="#fef0c0"/><stop offset="0.16" stop-color="#fef0c0"/><stop offset="0.2" stop-color="#f79a27"/><stop offset="0.24" stop-color="#d44842"/><stop offset="0.28" stop-color="#f79a27"/><stop offset="0.34" stop-color="#fabc3c"/><stop offset="0.38" stop-color="#fbc44c"/><stop offset="0.42" stop-color="#fbcb5c"/><stop offset="0.46" stop-color="#fac248"/><stop offset="0.51" stop-color="#fab839"/><stop offset="0.57" stop-color="#f48a22"/><stop offset="0.63" stop-color="#d44842"/><stop offset="0.68" stop-color="#8a2c71"/><stop offset="0.73" stop-color="#481a70"/><stop offset="0.77" stop-color="#311350"/><stop offset="0.81" stop-color="#1d0d32"/><stop offset="1" stop-color="#11091d"/></linearGradient></defs>
<line x1="69.6" y1="14.6" x2="69.6" y2="133.8" stroke="#8a8a8a" stroke-width="0.7" stroke-dasharray="2.6 1.8"/>
<line x1="126.3" y1="14.6" x2="126.3" y2="133.8" stroke="#8a8a8a" stroke-width="0.7" stroke-dasharray="2.6 1.8"/>
<line x1="183" y1="14.6" x2="183" y2="133.8" stroke="#8a8a8a" stroke-width="0.7" stroke-dasharray="2.6 1.8"/>
<line x1="37.4" y1="19.3" x2="214.4" y2="19.3" stroke="#9a9a9a" stroke-width="0.7" stroke-dasharray="2.6 1.8"/>
<line x1="37.4" y1="64" x2="214.4" y2="64" stroke="#9a9a9a" stroke-width="0.7" stroke-dasharray="2.6 1.8"/>
<path d="M40 64 L40.5 64 L41 64 L41.5 64 L42 64 L42.5 64 L43 64 L43.5 64 L44 64 L44.5 63.99 L45 63.99 L45.5 63.99 L46 63.99 L46.5 63.98 L47 63.97 L47.5 63.96 L48 63.95 L48.5 63.93 L49 63.9 L49.5 63.87 L50 63.82 L50.5 63.76 L51 63.69 L51.5 63.6 L52 63.48 L52.5 63.33 L53 63.15 L53.5 62.92 L54 62.64 L54.5 62.31 L55 61.91 L55.5 61.43 L56 60.86 L56.5 60.2 L57 59.43 L57.5 58.54 L58 57.53 L58.5 56.38 L59 55.1 L59.5 53.67 L60 52.1 L60.5 50.39 L61 48.55 L61.5 46.58 L62 44.5 L62.5 42.33 L63 40.09 L63.5 37.81 L64 35.51 L64.5 33.24 L65 31.02 L65.5 28.89 L66 26.89 L66.5 25.06 L67 23.44 L67.5 22.04 L68 20.91 L68.5 20.07 L69 19.53 L69.5 19.31 L70 19.4 L70.5 19.82 L71 20.54 L71.5 21.56 L72 22.85 L72.5 24.39 L73 26.14 L73.5 28.07 L74 30.15 L74.5 32.34 L75 34.6 L75.5 36.89 L76 39.18 L76.5 41.44 L77 43.64 L77.5 45.76 L78 47.78 L78.5 49.67 L79 51.44 L79.5 53.06 L80 54.55 L80.5 55.89 L81 57.09 L81.5 58.15 L82 59.09 L82.5 59.91 L83 60.61 L83.5 61.21 L84 61.73 L84.5 62.16 L85 62.52 L85.5 62.82 L86 63.06 L86.5 63.26 L87 63.42 L87.5 63.55 L88 63.65 L88.5 63.74 L89 63.8 L89.5 63.85 L90 63.89 L90.5 63.92 L91 63.94 L91.5 63.95 L92 63.97 L92.5 63.98 L93 63.98 L93.5 63.99 L94 63.99 L94.5 63.99 L95 64 L95.5 64 L96 64 L96.5 64 L97 64 L97.5 64 L98 64 L98.5 64 L99 64 L99.5 64 L100 64 L100.5 64 L101 64 L101.5 63.99 L102 63.99 L102.5 63.99 L103 63.98 L103.5 63.97 L104 63.96 L104.5 63.95 L105 63.93 L105.5 63.91 L106 63.88 L106.5 63.84 L107 63.79 L107.5 63.72 L108 63.64 L108.5 63.53 L109 63.39 L109.5 63.22 L110 63.02 L110.5 62.76 L111 62.45 L111.5 62.08 L112 61.63 L112.5 61.1 L113 60.48 L113.5 59.75 L114 58.91 L114.5 57.95 L115 56.86 L115.5 55.63 L116 54.26 L116.5 52.75 L117 51.09 L117.5 49.3 L118 47.38 L118.5 45.35 L119 43.21 L119.5 40.99 L120 38.72 L120.5 36.43 L121 34.14 L121.5 31.89 L122 29.73 L122.5 27.67 L123 25.77 L123.5 24.06 L124 22.57 L124.5 21.33 L125 20.37 L125.5 19.71 L126 19.36 L126.5 19.33 L127 19.61 L127.5 20.22 L128 21.12 L128.5 22.3 L129 23.74 L129.5 25.41 L130 27.28 L130.5 29.3 L131 31.45 L131.5 33.69 L132 35.97 L132.5 38.27 L133 40.54 L133.5 42.77 L134 44.93 L134.5 46.98 L135 48.93 L135.5 50.75 L136 52.43 L136.5 53.97 L137 55.37 L137.5 56.62 L138 57.74 L138.5 58.73 L139 59.59 L139.5 60.34 L140 60.98 L140.5 61.53 L141 61.99 L141.5 62.38 L142 62.7 L142.5 62.97 L143 63.19 L143.5 63.36 L144 63.5 L144.5 63.62 L145 63.71 L145.5 63.78 L146 63.83 L146.5 63.87 L147 63.91 L147.5 63.93 L148 63.95 L148.5 63.96 L149 63.97 L149.5 63.98 L150 63.99 L150.5 63.99 L151 63.99 L151.5 64 L152 64 L152.5 64 L153 64 L153.5 64 L154 64 L154.5 64 L155 64 L155.5 64 L156 64 L156.5 64 L157 64 L157.5 64 L158 63.99 L158.5 63.99 L159 63.99 L159.5 63.98 L160 63.98 L160.5 63.97 L161 63.96 L161.5 63.94 L162 63.92 L162.5 63.89 L163 63.86 L163.5 63.81 L164 63.75 L164.5 63.67 L165 63.57 L165.5 63.45 L166 63.3 L166.5 63.1 L167 62.87 L167.5 62.58 L168 62.24 L168.5 61.82 L169 61.32 L169.5 60.74 L170 60.05 L170.5 59.26 L171 58.35 L171.5 57.31 L172 56.14 L172.5 54.83 L173 53.37 L173.5 51.77 L174 50.04 L174.5 48.17 L175 46.17 L175.5 44.07 L176 41.89 L176.5 39.64 L177 37.35 L177.5 35.05 L178 32.79 L178.5 30.58 L179 28.48 L179.5 26.51 L180 24.72 L180.5 23.14 L181 21.8 L181.5 20.72 L182 19.94 L182.5 19.46 L183 19.3 L183.5 19.46 L184 19.94 L184.5 20.72 L185 21.8 L185.5 23.14 L186 24.72 L186.5 26.51 L187 28.48 L187.5 30.58 L188 32.79 L188.5 35.05 L189 37.35 L189.5 39.64 L190 41.89 L190.5 44.07 L191 46.17 L191.5 48.17 L192 50.04 L192.5 51.77 L193 53.37 L193.5 54.83 L194 56.14 L194.5 57.31 L195 58.35 L195.5 59.26 L196 60.05 L196.5 60.74 L197 61.32 L197.5 61.82 L198 62.24 L198.5 62.58 L199 62.87 L199.5 63.1 L200 63.3 L200.5 63.45 L201 63.57 L201.5 63.67 L202 63.75 L202.5 63.81 L203 63.86 L203.5 63.89 L204 63.92 L204.5 63.94 L205 63.96 L205.5 63.97 L206 63.98 L206.5 63.98 L207 63.99 L207.5 63.99 L208 63.99 L208.5 64 L209 64 L209.5 64 L210 64 L210.5 64 L211 64 L211.5 64 L212 64" fill="none" stroke="#5e7d34" stroke-width="2.1" stroke-linejoin="round"/>
<path d="M40 90.3 L40.5 90.3 L41 90.3 L41.5 90.3 L42 90.3 L42.5 90.3 L43 90.3 L43.5 90.3 L44 90.3 L44.5 90.3 L45 90.3 L45.5 90.3 L46 90.3 L46.5 90.3 L47 90.3 L47.5 90.31 L48 90.31 L48.5 90.31 L49 90.32 L49.5 90.33 L50 90.35 L50.5 90.37 L51 90.4 L51.5 90.44 L52 90.49 L52.5 90.57 L53 90.67 L53.5 90.8 L54 90.97 L54.5 91.18 L55 91.44 L55.5 91.76 L56 92.14 L56.5 92.59 L57 93.1 L57.5 93.67 L58 94.28 L58.5 94.93 L59 95.58 L59.5 96.21 L60 96.78 L60.5 97.23 L61 97.54 L61.5 97.64 L62 97.48 L62.5 97.03 L63 96.26 L63.5 95.15 L64 93.69 L64.5 91.92 L65 89.94 L65.5 88.06 L66 86.08 L66.5 84.07 L67 82.14 L67.5 80.38 L68 78.87 L68.5 77.7 L69 76.93 L69.5 76.61 L70 76.75 L70.5 77.34 L71 78.36 L71.5 79.74 L72 81.41 L72.5 83.29 L73 85.27 L73.5 87.28 L74 89.21 L74.5 91.13 L75 93.02 L75.5 94.61 L76 95.86 L76.5 96.77 L77 97.34 L77.5 97.61 L78 97.6 L78.5 97.38 L79 96.97 L79.5 96.45 L80 95.84 L80.5 95.19 L81 94.54 L81.5 93.91 L82 93.32 L82.5 92.78 L83 92.31 L83.5 91.91 L84 91.56 L84.5 91.28 L85 91.05 L85.5 90.86 L86 90.72 L86.5 90.61 L87 90.52 L87.5 90.46 L88 90.41 L88.5 90.38 L89 90.35 L89.5 90.34 L90 90.32 L90.5 90.32 L91 90.31 L91.5 90.31 L92 90.3 L92.5 90.3 L93 90.3 L93.5 90.3 L94 90.3 L94.5 90.3 L95 90.3 L95.5 90.3 L96 90.3 L96.5 90.3 L97 90.3 L97.5 90.3 L98 90.3 L98.5 90.3 L99 90.3 L99.5 90.3 L100 90.3 L100.5 90.3 L101 90.3 L101.5 90.3 L102 90.3 L102.5 90.3 L103 90.3 L103.5 90.3 L104 90.3 L104.5 90.31 L105 90.31 L105.5 90.32 L106 90.33 L106.5 90.34 L107 90.36 L107.5 90.38 L108 90.42 L108.5 90.47 L109 90.54 L109.5 90.63 L110 90.74 L110.5 90.9 L111 91.09 L111.5 91.33 L112 91.63 L112.5 91.98 L113 92.4 L113.5 92.89 L114 93.43 L114.5 94.03 L115 94.67 L115.5 95.32 L116 95.96 L116.5 96.56 L117 97.07 L117.5 97.44 L118 97.62 L118.5 97.58 L119 97.25 L119.5 96.61 L120 95.63 L120.5 94.31 L121 92.66 L121.5 90.72 L122 88.83 L122.5 86.88 L123 84.87 L123.5 82.9 L124 81.06 L124.5 79.44 L125 78.12 L125.5 77.19 L126 76.68 L126.5 76.64 L127 77.05 L127.5 77.9 L128 79.15 L128.5 80.71 L129 82.52 L129.5 84.47 L130 86.48 L130.5 88.45 L131 90.3 L131.5 92.3 L132 94.01 L132.5 95.4 L133 96.44 L133.5 97.15 L134 97.53 L134.5 97.63 L135 97.49 L135.5 97.15 L136 96.67 L136.5 96.09 L137 95.45 L137.5 94.8 L138 94.15 L138.5 93.55 L139 92.99 L139.5 92.49 L140 92.06 L140.5 91.69 L141 91.38 L141.5 91.13 L142 90.93 L142.5 90.77 L143 90.65 L143.5 90.55 L144 90.48 L144.5 90.43 L145 90.39 L145.5 90.36 L146 90.34 L146.5 90.33 L147 90.32 L147.5 90.31 L148 90.31 L148.5 90.31 L149 90.3 L149.5 90.3 L150 90.3 L150.5 90.3 L151 90.3 L151.5 90.3 L152 90.3 L152.5 90.3 L153 90.3 L153.5 90.3 L154 90.3 L154.5 90.3 L155 90.3 L155.5 90.3 L156 90.3 L156.5 90.3 L157 90.3 L157.5 90.3 L158 90.3 L158.5 90.3 L159 90.3 L159.5 90.3 L160 90.3 L160.5 90.3 L161 90.31 L161.5 90.31 L162 90.31 L162.5 90.32 L163 90.33 L163.5 90.35 L164 90.37 L164.5 90.4 L165 90.45 L165.5 90.51 L166 90.59 L166.5 90.69 L167 90.83 L167.5 91.01 L168 91.23 L168.5 91.5 L169 91.83 L169.5 92.23 L170 92.68 L170.5 93.21 L171 93.79 L171.5 94.41 L172 95.06 L172.5 95.71 L173 96.33 L173.5 96.88 L174 97.31 L174.5 97.58 L175 97.63 L175.5 97.42 L176 96.91 L176.5 96.07 L177 94.88 L177.5 93.36 L178 91.53 L178.5 89.58 L179 87.67 L179.5 85.68 L180 83.68 L180.5 81.77 L181 80.05 L181.5 78.61 L182 77.51 L182.5 76.83 L183 76.6 L183.5 76.83 L184 77.51 L184.5 78.61 L185 80.05 L185.5 81.77 L186 83.68 L186.5 85.68 L187 87.67 L187.5 89.58 L188 91.53 L188.5 93.36 L189 94.88 L189.5 96.07 L190 96.91 L190.5 97.42 L191 97.63 L191.5 97.58 L192 97.31 L192.5 96.88 L193 96.33 L193.5 95.71 L194 95.06 L194.5 94.41 L195 93.79 L195.5 93.21 L196 92.68 L196.5 92.23 L197 91.83 L197.5 91.5 L198 91.23 L198.5 91.01 L199 90.83 L199.5 90.69 L200 90.59 L200.5 90.51 L201 90.45 L201.5 90.4 L202 90.37 L202.5 90.35 L203 90.33 L203.5 90.32 L204 90.31 L204.5 90.31 L205 90.31 L205.5 90.3 L206 90.3 L206.5 90.3 L207 90.3 L207.5 90.3 L208 90.3 L208.5 90.3 L209 90.3 L209.5 90.3 L210 90.3 L210.5 90.3 L211 90.3 L211.5 90.3 L212 90.3" fill="none" stroke="#5e7d34" stroke-width="2.1" stroke-linejoin="round"/>
<path d="M40 122.3 L40.5 122.3 L41 122.3 L41.5 122.3 L42 122.3 L42.5 122.3 L43 122.3 L43.5 122.3 L44 122.3 L44.5 122.3 L45 122.3 L45.5 122.3 L46 122.3 L46.5 122.3 L47 122.3 L47.5 122.31 L48 122.31 L48.5 122.31 L49 122.32 L49.5 122.32 L50 122.33 L50.5 122.34 L51 122.36 L51.5 122.38 L52 122.41 L52.5 122.45 L53 122.49 L53.5 122.55 L54 122.62 L54.5 122.7 L55 122.8 L55.5 122.92 L56 123.05 L56.5 123.2 L57 123.36 L57.5 123.54 L58 123.71 L58.5 123.89 L59 124.06 L59.5 124.21 L60 124.32 L60.5 124.4 L61 124.42 L61.5 124.38 L62 124.26 L62.5 124.07 L63 123.78 L63.5 123.4 L64 122.95 L64.5 122.41 L65 121.74 L65.5 120.99 L66 120.22 L66.5 119.46 L67 118.73 L67.5 118.08 L68 117.52 L68.5 117.1 L69 116.82 L69.5 116.7 L70 116.75 L70.5 116.97 L71 117.34 L71.5 117.84 L72 118.46 L72.5 119.16 L73 119.91 L73.5 120.68 L74 121.44 L74.5 122.16 L75 122.74 L75.5 123.23 L76 123.64 L76.5 123.96 L77 124.2 L77.5 124.34 L78 124.42 L78.5 124.42 L79 124.36 L79.5 124.26 L80 124.12 L80.5 123.96 L81 123.79 L81.5 123.61 L82 123.43 L82.5 123.27 L83 123.11 L83.5 122.97 L84 122.85 L84.5 122.74 L85 122.65 L85.5 122.58 L86 122.51 L86.5 122.46 L87 122.42 L87.5 122.39 L88 122.37 L88.5 122.35 L89 122.34 L89.5 122.33 L90 122.32 L90.5 122.31 L91 122.31 L91.5 122.31 L92 122.3 L92.5 122.3 L93 122.3 L93.5 122.3 L94 122.3 L94.5 122.3 L95 122.3 L95.5 122.3 L96 122.3 L96.5 122.3 L97 122.3 L97.5 122.3 L98 122.3 L98.5 122.3 L99 122.3 L99.5 122.3 L100 122.3 L100.5 122.3 L101 122.3 L101.5 122.3 L102 122.3 L102.5 122.3 L103 122.3 L103.5 122.3 L104 122.3 L104.5 122.31 L105 122.31 L105.5 122.31 L106 122.32 L106.5 122.33 L107 122.34 L107.5 122.35 L108 122.37 L108.5 122.4 L109 122.43 L109.5 122.47 L110 122.53 L110.5 122.59 L111 122.67 L111.5 122.76 L112 122.87 L112.5 123 L113 123.14 L113.5 123.3 L114 123.47 L114.5 123.64 L115 123.82 L115.5 123.99 L116 124.15 L116.5 124.28 L117 124.38 L117.5 124.42 L118 124.41 L118.5 124.32 L119 124.16 L119.5 123.9 L120 123.56 L120.5 123.14 L121 122.64 L121.5 122.02 L122 121.29 L122.5 120.53 L123 119.76 L123.5 119.01 L124 118.33 L124.5 117.73 L125 117.25 L125.5 116.91 L126 116.73 L126.5 116.71 L127 116.86 L127.5 117.17 L128 117.63 L128.5 118.2 L129 118.87 L129.5 119.61 L130 120.37 L130.5 121.14 L131 121.88 L131.5 122.53 L132 123.04 L132.5 123.49 L133 123.84 L133.5 124.11 L134 124.29 L134.5 124.4 L135 124.42 L135.5 124.39 L136 124.3 L136.5 124.18 L137 124.03 L137.5 123.86 L138 123.68 L138.5 123.5 L139 123.33 L139.5 123.17 L140 123.03 L140.5 122.9 L141 122.78 L141.5 122.69 L142 122.6 L142.5 122.54 L143 122.48 L143.5 122.44 L144 122.4 L144.5 122.38 L145 122.36 L145.5 122.34 L146 122.33 L146.5 122.32 L147 122.31 L147.5 122.31 L148 122.31 L148.5 122.3 L149 122.3 L149.5 122.3 L150 122.3 L150.5 122.3 L151 122.3 L151.5 122.3 L152 122.3 L152.5 122.3 L153 122.3 L153.5 122.3 L154 122.3 L154.5 122.3 L155 122.3 L155.5 122.3 L156 122.3 L156.5 122.3 L157 122.3 L157.5 122.3 L158 122.3 L158.5 122.3 L159 122.3 L159.5 122.3 L160 122.3 L160.5 122.3 L161 122.31 L161.5 122.31 L162 122.31 L162.5 122.32 L163 122.32 L163.5 122.33 L164 122.35 L164.5 122.36 L165 122.39 L165.5 122.42 L166 122.46 L166.5 122.5 L167 122.56 L167.5 122.64 L168 122.72 L168.5 122.83 L169 122.95 L169.5 123.08 L170 123.23 L170.5 123.4 L171 123.57 L171.5 123.75 L172 123.93 L172.5 124.09 L173 124.23 L173.5 124.34 L174 124.41 L174.5 124.42 L175 124.36 L175.5 124.23 L176 124.02 L176.5 123.71 L177 123.32 L177.5 122.85 L178 122.3 L178.5 121.59 L179 120.84 L179.5 120.06 L180 119.31 L180.5 118.59 L181 117.96 L181.5 117.43 L182 117.03 L182.5 116.78 L183 116.7 L183.5 116.78 L184 117.03 L184.5 117.43 L185 117.96 L185.5 118.59 L186 119.31 L186.5 120.06 L187 120.84 L187.5 121.59 L188 122.3 L188.5 122.85 L189 123.32 L189.5 123.71 L190 124.02 L190.5 124.23 L191 124.36 L191.5 124.42 L192 124.41 L192.5 124.34 L193 124.23 L193.5 124.09 L194 123.93 L194.5 123.75 L195 123.57 L195.5 123.4 L196 123.23 L196.5 123.08 L197 122.95 L197.5 122.83 L198 122.72 L198.5 122.64 L199 122.56 L199.5 122.5 L200 122.46 L200.5 122.42 L201 122.39 L201.5 122.36 L202 122.35 L202.5 122.33 L203 122.32 L203.5 122.32 L204 122.31 L204.5 122.31 L205 122.31 L205.5 122.3 L206 122.3 L206.5 122.3 L207 122.3 L207.5 122.3 L208 122.3 L208.5 122.3 L209 122.3 L209.5 122.3 L210 122.3 L210.5 122.3 L211 122.3 L211.5 122.3 L212 122.3" fill="none" stroke="#5e7d34" stroke-width="1.9" stroke-linejoin="round" stroke-dasharray="3.6 1.3"/>
<rect x="37.4" y="14.6" width="177" height="119.2" fill="none" stroke="#000" stroke-width="1.3"/>
<line x1="37.4" y1="68.8" x2="214.4" y2="68.8" stroke="#585858" stroke-width="2.1"/>
<line x1="69.6" y1="14.6" x2="69.6" y2="16.6" stroke="#000" stroke-width="1"/>
<line x1="69.6" y1="133.8" x2="69.6" y2="131.3" stroke="#000" stroke-width="1"/>
<line x1="69.6" y1="66.8" x2="69.6" y2="70.8" stroke="#000" stroke-width="1"/>
<line x1="126.3" y1="14.6" x2="126.3" y2="16.6" stroke="#000" stroke-width="1"/>
<line x1="126.3" y1="133.8" x2="126.3" y2="131.3" stroke="#000" stroke-width="1"/>
<line x1="126.3" y1="66.8" x2="126.3" y2="70.8" stroke="#000" stroke-width="1"/>
<line x1="183" y1="14.6" x2="183" y2="16.6" stroke="#000" stroke-width="1"/>
<line x1="183" y1="133.8" x2="183" y2="131.3" stroke="#000" stroke-width="1"/>
<line x1="183" y1="66.8" x2="183" y2="70.8" stroke="#000" stroke-width="1"/>
<line x1="37.4" y1="19.3" x2="39.4" y2="19.3" stroke="#000" stroke-width="1"/>
<line x1="37.4" y1="64" x2="39.4" y2="64" stroke="#000" stroke-width="1"/>
<line x1="66" y1="47.2" x2="72.6" y2="47.2" stroke="#999" stroke-width="0.7" stroke-dasharray="1.6 1.2"/>
<path d="M61.4 47.2 L66.2 45.6 L66.2 48.8 Z M77.8 47.2 L73.0 45.6 L73.0 48.8 Z" fill="#000"/>
<text x="81.2" y="50.6" font-size="8.8" font-style="italic">w</text>
<text x="34.3" y="22.3" font-size="8.6" text-anchor="end"><tspan font-style="italic">T</tspan><tspan font-size="6" dy="1">max</tspan></text>
<text x="34.3" y="67.4" font-size="8.6" text-anchor="end"><tspan font-style="italic">T</tspan><tspan font-size="6" dy="1">min</tspan></text>
<text transform="translate(8.9 62) rotate(-90)" font-size="10">Temp. <tspan font-style="italic">T</tspan><tspan font-size="5.6" dy="1.3">e</tspan></text>
<text transform="translate(8.9 133.3) rotate(-90)" font-size="10">Conductivity <tspan font-style="italic">σ</tspan></text>
<text x="142.4" y="86.8" font-size="10" fill="#5e7d34">Im{<tspan font-style="italic">σ</tspan>}</text>
<text x="141.6" y="119.3" font-size="10" fill="#5e7d34">Re{<tspan font-style="italic">σ</tspan>}</text>
<text x="69.6" y="144.6" font-size="8.4" text-anchor="middle">−<tspan font-style="italic">P</tspan></text>
<text x="126.3" y="144.6" font-size="8.4" text-anchor="middle">0</text>
<text x="183" y="144.6" font-size="8.4" text-anchor="middle" font-style="italic">P</text>
<text x="127.5" y="157.8" font-size="9.7" text-anchor="middle">Position <tspan font-style="italic">x</tspan></text>
<line x1="298.8" y1="24.5" x2="298.8" y2="134.3" stroke="#dedede" stroke-width="0.7"/>
<line x1="348.03" y1="24.5" x2="348.03" y2="134.3" stroke="#dedede" stroke-width="0.7"/>
<line x1="397.26" y1="24.5" x2="397.26" y2="134.3" stroke="#dedede" stroke-width="0.7"/>
<line x1="446.49" y1="24.5" x2="446.49" y2="134.3" stroke="#dedede" stroke-width="0.7"/>
<line x1="271.3" y1="104.87" x2="450.4" y2="104.87" stroke="#dedede" stroke-width="0.7"/>
<line x1="271.3" y1="75.53" x2="450.4" y2="75.53" stroke="#dedede" stroke-width="0.7"/>
<line x1="271.3" y1="46.2" x2="450.4" y2="46.2" stroke="#dedede" stroke-width="0.7"/>
<path d="M274.9 64.2 C276.25 66.67 280.15 73.87 283 79 C285.85 84.13 289.17 90.75 292 95 C294.83 99.25 296.97 102.25 300 104.5 C303.03 106.75 307.2 108.42 310.2 108.5 C313.2 108.58 315.37 107.25 318 105 C320.63 102.75 322.97 99.08 326 95 C329.03 90.92 333.03 83.97 336.2 80.5 C339.37 77.03 342.05 75.67 345 74.2 C347.95 72.73 351.23 71.93 353.9 71.7 C356.57 71.47 358.63 72.05 361 72.8 C363.37 73.55 365.77 74.75 368.1 76.2 C370.43 77.65 372.65 79.52 375 81.5 C377.35 83.48 379.87 86.18 382.2 88.1 C384.53 90.02 386.67 91.6 389 93 C391.33 94.4 391.03 94.92 396.2 96.5 C401.37 98.08 411.62 100.28 420 102.5 C428.38 104.72 442.08 108.58 446.5 109.8" fill="none" stroke="#f7b8b8" stroke-width="1.1"/>
<path d="M274.9 58.8 C276.42 61.5 280.82 69.47 284 75 C287.18 80.53 290.83 87.25 294 92 C297.17 96.75 299.9 100.73 303 103.5 C306.1 106.27 309.6 108.35 312.6 108.6 C315.6 108.85 317.93 107.27 321 105 C324.07 102.73 327.83 98.28 331 95 C334.17 91.72 337.33 87.97 340 85.3 C342.67 82.63 344.42 80.52 347 79 C349.58 77.48 353 76.53 355.5 76.2 C358 75.87 359.9 76.42 362 77 C364.1 77.58 365.93 78.53 368.1 79.7 C370.27 80.87 372.65 82.37 375 84 C377.35 85.63 379.87 87.83 382.2 89.5 C384.53 91.17 386.67 92.7 389 94 C391.33 95.3 391.03 95.8 396.2 97.3 C401.37 98.8 411.62 100.88 420 103 C428.38 105.12 442.08 108.83 446.5 110" fill="none" stroke="#f29696" stroke-width="1.1"/>
<path d="M274.9 42.8 C277 46 283.35 55.8 287.5 62 C291.65 68.2 296.05 74.75 299.8 80 C303.55 85.25 306.8 89.83 310 93.5 C313.2 97.17 315.78 99.98 319 102 C322.22 104.02 326.13 105.52 329.3 105.6 C332.47 105.68 335.38 103.72 338 102.5 C340.62 101.28 342.33 100.17 345 98.3 C347.67 96.43 351.17 93.02 354 91.3 C356.83 89.58 359.17 88.72 362 88 C364.83 87.28 368.33 87.07 371 87 C373.67 86.93 375.67 87.18 378 87.6 C380.33 88.02 381.97 88.37 385 89.5 C388.03 90.63 392.03 92.55 396.2 94.4 C400.37 96.25 404.7 98.78 410 100.6 C415.3 102.42 421.92 103.7 428 105.3 C434.08 106.9 443.42 109.38 446.5 110.2" fill="none" stroke="#eb5656" stroke-width="1.3"/>
<path d="M274.7 29.8 C277.42 33.17 286.28 44.13 291 50 C295.72 55.87 298.9 60 303 65 C307.1 70 311.22 75.53 315.6 80 C319.98 84.47 325.05 88.57 329.3 91.8 C333.55 95.03 337.65 97.97 341.1 99.4 C344.55 100.83 347.18 100.4 350 100.4 C352.82 100.4 355.33 99.83 358 99.4 C360.67 98.97 362.43 98.4 366 97.8 C369.57 97.2 374.83 95.97 379.4 95.8 C383.97 95.63 388.3 95.97 393.4 96.8 C398.5 97.63 404.23 99.35 410 100.8 C415.77 102.25 421.92 103.87 428 105.5 C434.08 107.13 443.42 109.75 446.5 110.6" fill="none" stroke="#e3262a" stroke-width="1.5"/>
<circle cx="353.9" cy="71.9" r="2.1" fill="#000"/>
<text x="354.3" y="68.4" font-size="9" text-anchor="middle">A</text>
<text x="295" y="40.2" font-size="10"><tspan font-style="italic">E</tspan><tspan font-size="6.8" dy="2">F</tspan><tspan dy="-2"> = </tspan><tspan fill="#f7b8b8">0.15</tspan>, <tspan fill="#f29696">0.20</tspan>,</text>
<text x="315.7" y="52.5" font-size="10"><tspan fill="#eb5656">0.30</tspan>, <tspan fill="#e3262a">0.40</tspan> eV</text>
<text x="445" y="36.4" font-size="10" text-anchor="end"><tspan font-style="italic">P</tspan> = 6 μm</text>
<text x="445" y="48.2" font-size="10" text-anchor="end"><tspan font-style="italic">w</tspan> = <tspan font-style="italic">P</tspan>/3</text>
<text x="367.8" y="114.6" font-size="8.2" text-anchor="end" fill="#e8242a">Gr</text>
<rect x="371.5" y="111.4" width="50" height="2.5" fill="#e8242a"/>
<path d="M371.5 113.9 H421.5 V120.3 Q415.25 123.7 409 120.3 Q402.75 123.7 396.5 120.3 Q390.25 123.7 384 120.3 Q377.75 123.7 371.5 120.3 Z" fill="#fcef9c"/>
<path d="M279.3 127.2 V111.5 M279.3 127.2 H296" stroke="#000" stroke-width="0.8" fill="none"/>
<path d="M277.6 112.2 L279.3 108.6 L281 112.2 Z M295.3 125.5 L298.9 127.2 L295.3 128.9 Z" fill="#000"/>
<text x="278.2" y="108.5" font-size="8.5" font-style="italic">z</text>
<text x="300" y="130" font-size="8.5" font-style="italic">x</text>
<path d="M298.8 134.3v-2.6M298.8 24.5v2.6M348.03 134.3v-2.6M348.03 24.5v2.6M397.26 134.3v-2.6M397.26 24.5v2.6M446.49 134.3v-2.6M446.49 24.5v2.6M279.11 134.3v-1.6M279.11 24.5v1.6M288.95 134.3v-1.6M288.95 24.5v1.6M308.65 134.3v-1.6M308.65 24.5v1.6M318.49 134.3v-1.6M318.49 24.5v1.6M328.34 134.3v-1.6M328.34 24.5v1.6M338.18 134.3v-1.6M338.18 24.5v1.6M357.88 134.3v-1.6M357.88 24.5v1.6M367.72 134.3v-1.6M367.72 24.5v1.6M377.57 134.3v-1.6M377.57 24.5v1.6M387.41 134.3v-1.6M387.41 24.5v1.6M407.11 134.3v-1.6M407.11 24.5v1.6M416.95 134.3v-1.6M416.95 24.5v1.6M426.8 134.3v-1.6M426.8 24.5v1.6M436.64 134.3v-1.6M436.64 24.5v1.6M271.3 134.2h2.6M450.4 134.2h-2.6M271.3 104.87h2.6M450.4 104.87h-2.6M271.3 75.53h2.6M450.4 75.53h-2.6M271.3 46.2h2.6M450.4 46.2h-2.6M271.3 128.34h1.6M450.4 128.34h-1.6M271.3 122.47h1.6M450.4 122.47h-1.6M271.3 116.6h1.6M450.4 116.6h-1.6M271.3 110.74h1.6M450.4 110.74h-1.6M271.3 99h1.6M450.4 99h-1.6M271.3 93.14h1.6M450.4 93.14h-1.6M271.3 87.27h1.6M450.4 87.27h-1.6M271.3 81.4h1.6M450.4 81.4h-1.6M271.3 69.67h1.6M450.4 69.67h-1.6M271.3 63.8h1.6M450.4 63.8h-1.6M271.3 57.93h1.6M450.4 57.93h-1.6M271.3 52.07h1.6M450.4 52.07h-1.6M271.3 40.33h1.6M450.4 40.33h-1.6M271.3 34.47h1.6M450.4 34.47h-1.6M271.3 28.6h1.6M450.4 28.6h-1.6" stroke="#000" stroke-width="0.9" fill="none"/>
<rect x="271.3" y="24.5" width="179.1" height="109.8" fill="none" stroke="#000" stroke-width="1.3"/>
<text x="267.2" y="137.2" font-size="8.5" text-anchor="end">5.0</text>
<text x="267.2" y="107.87" font-size="8.5" text-anchor="end">10.0</text>
<text x="267.2" y="78.53" font-size="8.5" text-anchor="end">15.0</text>
<text x="267.2" y="49.2" font-size="8.5" text-anchor="end">20.0</text>
<text x="298.8" y="145.7" font-size="8.5" text-anchor="middle">0.02</text>
<text x="348.03" y="145.7" font-size="8.5" text-anchor="middle">0.03</text>
<text x="397.26" y="145.7" font-size="8.5" text-anchor="middle">0.04</text>
<text x="446.49" y="145.7" font-size="8.5" text-anchor="middle">0.05</text>
<text x="361" y="160.4" font-size="10" text-anchor="middle">Photon energy <tspan id="hb1" font-style="italic">h</tspan><tspan font-style="italic">ω</tspan> (eV)</text>
<text transform="translate(242.0 80.0) rotate(-90)" font-size="9.9" text-anchor="middle">Absorbance (%)</text>
<text x="361" y="19" font-size="11" text-anchor="middle">Graphene plasmons</text>
<line x1="378.5" y1="153.7" x2="382.1" y2="153.7" stroke="#000" stroke-width="0.85"/>
<line x1="61.6" y1="202.6" x2="61.6" y2="312" stroke="#dedede" stroke-width="0.7"/>
<line x1="95.5" y1="202.6" x2="95.5" y2="312" stroke="#dedede" stroke-width="0.7"/>
<line x1="129.4" y1="202.6" x2="129.4" y2="312" stroke="#dedede" stroke-width="0.7"/>
<line x1="163.3" y1="202.6" x2="163.3" y2="312" stroke="#dedede" stroke-width="0.7"/>
<line x1="197.2" y1="202.6" x2="197.2" y2="312" stroke="#dedede" stroke-width="0.7"/>
<line x1="37.4" y1="298.75" x2="215.6" y2="298.75" stroke="#dedede" stroke-width="0.7"/>
<line x1="37.4" y1="266.6" x2="215.6" y2="266.6" stroke="#dedede" stroke-width="0.7"/>
<line x1="37.4" y1="234.45" x2="215.6" y2="234.45" stroke="#dedede" stroke-width="0.7"/>
<path d="M43.8 207.4 C46.9 208.83 56.27 213.35 62.4 216 C68.53 218.65 75.13 221.37 80.6 223.3 C86.07 225.23 90.83 226.78 95.2 227.6 C99.57 228.42 102.9 228.37 106.8 228.2 C110.7 228.03 115.32 227.12 118.6 226.6 C121.88 226.08 124.53 225.1 126.5 225.1 C128.47 225.1 128.62 225.2 130.4 226.6 C132.18 228 134.67 230.38 137.2 233.5 C139.73 236.62 143.17 241.72 145.6 245.3 C148.03 248.88 148.8 251.95 151.8 255 C154.8 258.05 159.02 260.87 163.6 263.6 C168.18 266.33 173.4 268.95 179.3 271.4 C185.2 273.85 193.38 276.33 199 278.3 C204.62 280.27 210.67 282.38 213 283.2" fill="none" stroke="#f7b8b8" stroke-width="1.1"/>
<path d="M43.8 213.2 C46.9 214.58 56.27 218.9 62.4 221.5 C68.53 224.1 75.13 226.83 80.6 228.8 C86.07 230.77 90.83 232.37 95.2 233.3 C99.57 234.23 102.9 234.65 106.8 234.4 C110.7 234.15 114.98 232.67 118.6 231.8 C122.22 230.93 126.35 229.57 128.5 229.2 C130.65 228.83 130.05 228.6 131.5 229.6 C132.95 230.6 134.85 232.3 137.2 235.2 C139.55 238.1 143.17 243.3 145.6 247 C148.03 250.7 148.8 254.32 151.8 257.4 C154.8 260.48 159.02 262.83 163.6 265.5 C168.18 268.17 173.4 270.87 179.3 273.4 C185.2 275.93 193.38 278.57 199 280.7 C204.62 282.83 210.67 285.28 213 286.2" fill="none" stroke="#f29696" stroke-width="1.1"/>
<path d="M43.8 223.3 C46.9 224.97 56.27 230.12 62.4 233.3 C68.53 236.48 75.13 239.97 80.6 242.4 C86.07 244.83 90.83 246.65 95.2 247.9 C99.57 249.15 102.9 249.55 106.8 249.9 C110.7 250.25 114.67 250.62 118.6 250 C122.53 249.38 127.3 246.42 130.4 246.2 C133.5 245.98 134.67 246.88 137.2 248.7 C139.73 250.52 143.17 254.78 145.6 257.1 C148.03 259.42 148.8 259.88 151.8 262.6 C154.8 265.32 159.02 270.12 163.6 273.4 C168.18 276.68 173.4 279.68 179.3 282.3 C185.2 284.92 193.38 286.98 199 289.1 C204.62 291.22 210.67 294.02 213 295" fill="none" stroke="#eb5656" stroke-width="1.3"/>
<path d="M43.8 227.8 C46.9 229.63 56.27 235.3 62.4 238.8 C68.53 242.3 75.13 245.97 80.6 248.8 C86.07 251.63 90.83 254.03 95.2 255.8 C99.57 257.57 102.9 258.43 106.8 259.4 C110.7 260.37 115.23 261.37 118.6 261.6 C121.97 261.83 124.18 260.82 127 260.8 C129.82 260.78 132.4 260.4 135.5 261.5 C138.6 262.6 142.88 265.45 145.6 267.4 C148.32 269.35 148.8 270.88 151.8 273.2 C154.8 275.52 159.02 278.65 163.6 281.3 C168.18 283.95 173.4 286.65 179.3 289.1 C185.2 291.55 193.38 293.93 199 296 C204.62 298.07 210.67 300.58 213 301.5" fill="none" stroke="#e3262a" stroke-width="1.5"/>
<circle cx="130.6" cy="226.8" r="2.1" fill="#000"/>
<text x="131.2" y="223.2" font-size="9" text-anchor="middle">B</text>
<text x="211.2" y="214.5" font-size="10" text-anchor="end"><tspan font-style="italic">P</tspan> = 1 μm</text>
<text x="211.2" y="226" font-size="10" text-anchor="end"><tspan font-style="italic">w</tspan> = <tspan font-style="italic">P</tspan>/4</text>
<text x="211.2" y="237.5" font-size="10" text-anchor="end"><tspan font-style="italic">s</tspan> = 1 nm</text>
<text x="211.2" y="248.9" font-size="10" text-anchor="end"><tspan font-style="italic">h</tspan> = 1 nm</text>
<text x="55.6" y="277" font-size="8" text-anchor="end" fill="#e8242a">Gr</text>
<text x="55.4" y="289.8" font-size="8" text-anchor="end" fill="#9a9a9a">Ag</text>
<rect x="59.9" y="273.9" width="49.6" height="2" fill="#e8242a"/>
<rect x="59.9" y="275.9" width="49.6" height="5.8" fill="#fdf47c"/>
<rect x="59.9" y="281.7" width="49.6" height="10.8" fill="#868686"/>
<path d="M59.9 293.1 H109.5 V299.8 Q103.3 303.4 97.1 299.8 Q90.9 303.4 84.7 299.8 Q78.5 303.4 72.3 299.8 Q66.1 303.4 59.9 299.8 Z" fill="#fdf09c"/>
<path d="M112 276.7 V280.9" stroke="#333" stroke-width="0.6"/>
<path d="M112 276.2 l-1.3 1.9 h2.6 Z M112 281.4 l-1.3 -1.9 h2.6 Z" fill="#333"/>
<path d="M112 282.5 V291.7" stroke="#333" stroke-width="0.6"/>
<path d="M112 282 l-1.3 1.9 h2.6 Z M112 292.2 l-1.3 -1.9 h2.6 Z" fill="#333"/>
<line x1="110.5" y1="275.9" x2="113.5" y2="275.9" stroke="#333" stroke-width="0.5"/>
<line x1="110.5" y1="281.7" x2="113.5" y2="281.7" stroke="#333" stroke-width="0.5"/>
<line x1="110.5" y1="292.5" x2="113.5" y2="292.5" stroke="#333" stroke-width="0.5"/>
<text x="115.6" y="281.1" font-size="8.5" font-style="italic">s</text>
<text x="115.6" y="290.4" font-size="8.5" font-style="italic">h</text>
<path d="M61.6 312v-2.6M61.6 202.6v2.6M95.5 312v-2.6M95.5 202.6v2.6M129.4 312v-2.6M129.4 202.6v2.6M163.3 312v-2.6M163.3 202.6v2.6M197.2 312v-2.6M197.2 202.6v2.6M41.26 312v-1.6M41.26 202.6v1.6M48.04 312v-1.6M48.04 202.6v1.6M54.82 312v-1.6M54.82 202.6v1.6M68.38 312v-1.6M68.38 202.6v1.6M75.16 312v-1.6M75.16 202.6v1.6M81.94 312v-1.6M81.94 202.6v1.6M88.72 312v-1.6M88.72 202.6v1.6M102.28 312v-1.6M102.28 202.6v1.6M109.06 312v-1.6M109.06 202.6v1.6M115.84 312v-1.6M115.84 202.6v1.6M122.62 312v-1.6M122.62 202.6v1.6M136.18 312v-1.6M136.18 202.6v1.6M142.96 312v-1.6M142.96 202.6v1.6M149.74 312v-1.6M149.74 202.6v1.6M156.52 312v-1.6M156.52 202.6v1.6M170.08 312v-1.6M170.08 202.6v1.6M176.86 312v-1.6M176.86 202.6v1.6M183.64 312v-1.6M183.64 202.6v1.6M190.42 312v-1.6M190.42 202.6v1.6M203.98 312v-1.6M203.98 202.6v1.6M210.76 312v-1.6M210.76 202.6v1.6M37.4 298.75h2.6M215.6 298.75h-2.6M37.4 266.6h2.6M215.6 266.6h-2.6M37.4 234.45h2.6M215.6 234.45h-2.6M37.4 202.3h2.6M215.6 202.3h-2.6M37.4 305.18h1.6M215.6 305.18h-1.6M37.4 292.32h1.6M215.6 292.32h-1.6M37.4 285.89h1.6M215.6 285.89h-1.6M37.4 279.46h1.6M215.6 279.46h-1.6M37.4 273.03h1.6M215.6 273.03h-1.6M37.4 260.17h1.6M215.6 260.17h-1.6M37.4 253.74h1.6M215.6 253.74h-1.6M37.4 247.31h1.6M215.6 247.31h-1.6M37.4 240.88h1.6M215.6 240.88h-1.6M37.4 228.02h1.6M215.6 228.02h-1.6M37.4 221.59h1.6M215.6 221.59h-1.6M37.4 215.16h1.6M215.6 215.16h-1.6M37.4 208.73h1.6M215.6 208.73h-1.6" stroke="#000" stroke-width="0.9" fill="none"/>
<rect x="37.4" y="202.6" width="178.2" height="109.4" fill="none" stroke="#000" stroke-width="1.3"/>
<text x="33.3" y="301.75" font-size="8.5" text-anchor="end">3.0</text>
<text x="33.3" y="269.6" font-size="8.5" text-anchor="end">3.5</text>
<text x="33.3" y="237.45" font-size="8.5" text-anchor="end">4.0</text>
<text x="33.3" y="205.3" font-size="8.5" text-anchor="end">4.5</text>
<text x="61.6" y="322.9" font-size="8.5" text-anchor="middle">0.36</text>
<text x="95.5" y="322.9" font-size="8.5" text-anchor="middle">0.38</text>
<text x="129.4" y="322.9" font-size="8.5" text-anchor="middle">0.40</text>
<text x="163.3" y="322.9" font-size="8.5" text-anchor="middle">0.42</text>
<text x="197.2" y="322.9" font-size="8.5" text-anchor="middle">0.44</text>
<text transform="translate(12.1 257.5) rotate(-90)" font-size="9.8" text-anchor="middle">Absorbance (%)</text>
<text x="124.8" y="197.3" font-size="11" text-anchor="middle">Metal plasmons</text>
<line x1="274.9" y1="202.6" x2="274.9" y2="312" stroke="#dedede" stroke-width="0.7"/>
<line x1="303.5" y1="202.6" x2="303.5" y2="312" stroke="#dedede" stroke-width="0.7"/>
<line x1="332.1" y1="202.6" x2="332.1" y2="312" stroke="#dedede" stroke-width="0.7"/>
<line x1="360.7" y1="202.6" x2="360.7" y2="312" stroke="#dedede" stroke-width="0.7"/>
<line x1="389.3" y1="202.6" x2="389.3" y2="312" stroke="#dedede" stroke-width="0.7"/>
<line x1="417.9" y1="202.6" x2="417.9" y2="312" stroke="#dedede" stroke-width="0.7"/>
<line x1="446.5" y1="202.6" x2="446.5" y2="312" stroke="#dedede" stroke-width="0.7"/>
<line x1="271.3" y1="297.2" x2="450.2" y2="297.2" stroke="#dedede" stroke-width="0.7"/>
<line x1="271.3" y1="278" x2="450.2" y2="278" stroke="#dedede" stroke-width="0.7"/>
<line x1="271.3" y1="258.8" x2="450.2" y2="258.8" stroke="#dedede" stroke-width="0.7"/>
<line x1="271.3" y1="239.6" x2="450.2" y2="239.6" stroke="#dedede" stroke-width="0.7"/>
<line x1="271.3" y1="220.4" x2="450.2" y2="220.4" stroke="#dedede" stroke-width="0.7"/>
<path d="M280.8 268.5 C281.42 269.58 283.22 272.5 284.5 275 C285.78 277.5 287.33 280.83 288.5 283.5 C289.67 286.17 290.67 288.87 291.5 291 C292.33 293.13 292.98 295.18 293.5 296.3 C294.02 297.42 294.22 297.83 294.6 297.7 C294.98 297.57 295.4 297.12 295.8 295.5 C296.2 293.88 296.6 291.08 297 288 C297.4 284.92 297.83 280.67 298.2 277 C298.57 273.33 298.85 269.67 299.2 266 C299.55 262.33 299.8 260.12 300.3 255 C300.8 249.88 301.47 239.85 302.2 235.3 C302.93 230.75 303.77 229.7 304.7 227.7 C305.63 225.7 306.43 224.47 307.8 223.3 C309.17 222.13 311.03 221.07 312.9 220.7 C314.77 220.33 316.9 220.57 319 221.1 C321.1 221.63 322.83 222.58 325.5 223.9 C328.17 225.22 332.57 227.82 335 229 C337.43 230.18 337.57 230.43 340.1 231 C342.63 231.57 346.82 232.07 350.2 232.4 C353.58 232.73 356.73 231.97 360.4 233 C364.07 234.03 367.98 236.4 372.2 238.6 C376.42 240.8 381.07 244.08 385.7 246.2 C390.33 248.32 394.52 249.05 400 251.3 C405.48 253.55 410.75 255.42 418.6 259.7 C426.45 263.98 442.35 274.12 447.1 277" fill="none" stroke="#f7b8b8" stroke-width="1.1"/>
<path d="M280.8 268.5 C281.42 269.58 283.22 272.5 284.5 275 C285.78 277.5 287.17 280.67 288.5 283.5 C289.83 286.33 291.42 289.83 292.5 292 C293.58 294.17 294.28 295.48 295 296.5 C295.72 297.52 296.22 298.18 296.8 298.1 C297.38 298.02 297.93 297.52 298.5 296 C299.07 294.48 299.65 291.83 300.2 289 C300.75 286.17 301.32 282.33 301.8 279 C302.28 275.67 302.6 273 303.1 269 C303.6 265 304.33 258.73 304.8 255 C305.27 251.27 305.18 249.27 305.9 246.6 C306.62 243.93 307.72 241.42 309.1 239 C310.48 236.58 312.3 233.73 314.2 232.1 C316.1 230.47 318.2 229.62 320.5 229.2 C322.8 228.78 325.58 229.33 328 229.6 C330.42 229.87 332.98 230.07 335 230.8 C337.02 231.53 337.57 233.12 340.1 234 C342.63 234.88 346.27 235.33 350.2 236.1 C354.13 236.87 359.2 237.2 363.7 238.6 C368.2 240 372.98 242.53 377.2 244.5 C381.42 246.47 385.2 248.57 389 250.4 C392.8 252.23 395.07 253.3 400 255.5 C404.93 257.7 410.75 259.3 418.6 263.6 C426.45 267.9 442.35 278.35 447.1 281.3" fill="none" stroke="#f29696" stroke-width="1.1"/>
<path d="M280.8 268.6 C281.42 269.67 283.17 272.5 284.5 275 C285.83 277.5 287.38 280.85 288.8 283.6 C290.22 286.35 291.72 289.3 293 291.5 C294.28 293.7 295.55 295.63 296.5 296.8 C297.45 297.97 297.95 298.3 298.7 298.5 C299.45 298.7 300.12 298.67 301 298 C301.88 297.33 302.95 296.25 304 294.5 C305.05 292.75 305.58 291.25 307.3 287.5 C309.02 283.75 311.75 277.33 314.3 272 C316.85 266.67 320.32 259.1 322.6 255.5 C324.88 251.9 325.93 251.67 328 250.4 C330.07 249.13 333.27 248.37 335 247.9 C336.73 247.43 336.42 247.52 338.4 247.6 C340.38 247.68 342.68 247.5 346.9 248.4 C351.12 249.3 358.08 251.12 363.7 253 C369.32 254.88 374.55 257.32 380.6 259.7 C386.65 262.08 393.67 264.85 400 267.3 C406.33 269.75 410.75 270.37 418.6 274.4 C426.45 278.43 442.35 288.65 447.1 291.5" fill="none" stroke="#eb5656" stroke-width="1.3"/>
<path d="M280.8 268.6 C281.43 269.67 283.23 272.6 284.6 275 C285.97 277.4 287.6 280.55 289 283 C290.4 285.45 291.58 287.73 293 289.7 C294.42 291.67 296.17 293.6 297.5 294.8 C298.83 296 299.88 296.47 301 296.9 C302.12 297.33 303.03 297.48 304.2 297.4 C305.37 297.32 306.62 297.05 308 296.4 C309.38 295.75 310.97 294.6 312.5 293.5 C314.03 292.4 315.02 292 317.2 289.8 C319.38 287.6 322.97 283.2 325.6 280.3 C328.23 277.4 330.58 274.65 333 272.4 C335.42 270.15 336.95 268.07 340.1 266.8 C343.25 265.53 347.97 264.87 351.9 264.8 C355.83 264.73 358.92 265.42 363.7 266.4 C368.48 267.38 375.38 269.3 380.6 270.7 C385.82 272.1 388.67 272.53 395 274.8 C401.33 277.07 409.92 279.67 418.6 284.3 C427.28 288.93 442.35 299.55 447.1 302.6" fill="none" stroke="#e3262a" stroke-width="1.5"/>
<circle cx="318.9" cy="221.1" r="2.1" fill="#000"/>
<text x="318.6" y="217.3" font-size="9" text-anchor="middle">C</text>
<circle cx="360.6" cy="233.0" r="2.1" fill="#000"/>
<text x="360.9" y="229" font-size="9" text-anchor="middle">D</text>
<text x="445.4" y="214.5" font-size="10" text-anchor="end"><tspan font-style="italic">P</tspan> = 1 μm</text>
<text x="445.4" y="226" font-size="10" text-anchor="end"><tspan font-style="italic">w</tspan> = <tspan font-style="italic">P</tspan>/4</text>
<text x="445.4" y="237.5" font-size="10" text-anchor="end"><tspan font-style="italic">s</tspan> = 1 nm</text>
<text x="445.4" y="248.9" font-size="10" text-anchor="end"><tspan font-style="italic">h</tspan> = 1 nm</text>
<text x="337.6" y="282" font-size="8" text-anchor="end" fill="#e8242a">Gr</text>
<text x="337.6" y="294.8" font-size="8" text-anchor="end" fill="#9a9a9a">Ag</text>
<rect x="342.1" y="279.1" width="49.9" height="1.8" fill="#e8242a"/>
<rect x="342.1" y="280.9" width="49.9" height="5.8" fill="#fdf47c"/>
<rect x="342.1" y="286.7" width="49.9" height="10.8" fill="#868686"/>
<path d="M342.1 298.2 H392 V304.9 Q385.76 308.3 379.52 304.9 Q373.29 308.3 367.05 304.9 Q360.81 308.3 354.58 304.9 Q348.34 308.3 342.1 304.9 Z" fill="#fdf09c"/>
<path d="M395.3 281.7 V285.9" stroke="#333" stroke-width="0.6"/>
<path d="M395.3 281.2 l-1.3 1.9 h2.6 Z M395.3 286.4 l-1.3 -1.9 h2.6 Z" fill="#333"/>
<path d="M395.3 287.5 V296.7" stroke="#333" stroke-width="0.6"/>
<path d="M395.3 287 l-1.3 1.9 h2.6 Z M395.3 297.2 l-1.3 -1.9 h2.6 Z" fill="#333"/>
<line x1="393.8" y1="280.9" x2="396.8" y2="280.9" stroke="#333" stroke-width="0.5"/>
<line x1="393.8" y1="286.7" x2="396.8" y2="286.7" stroke="#333" stroke-width="0.5"/>
<line x1="393.8" y1="297.5" x2="396.8" y2="297.5" stroke="#333" stroke-width="0.5"/>
<text x="398.9" y="286.1" font-size="8.5" font-style="italic">s</text>
<text x="398.9" y="295.7" font-size="8.5" font-style="italic">h</text>
<path d="M274.9 312v-2.6M274.9 202.6v2.6M303.5 312v-2.6M303.5 202.6v2.6M332.1 312v-2.6M332.1 202.6v2.6M360.7 312v-2.6M360.7 202.6v2.6M389.3 312v-2.6M389.3 202.6v2.6M417.9 312v-2.6M417.9 202.6v2.6M446.5 312v-2.6M446.5 202.6v2.6M280.62 312v-1.6M280.62 202.6v1.6M286.34 312v-1.6M286.34 202.6v1.6M292.06 312v-1.6M292.06 202.6v1.6M297.78 312v-1.6M297.78 202.6v1.6M309.22 312v-1.6M309.22 202.6v1.6M314.94 312v-1.6M314.94 202.6v1.6M320.66 312v-1.6M320.66 202.6v1.6M326.38 312v-1.6M326.38 202.6v1.6M337.82 312v-1.6M337.82 202.6v1.6M343.54 312v-1.6M343.54 202.6v1.6M349.26 312v-1.6M349.26 202.6v1.6M354.98 312v-1.6M354.98 202.6v1.6M366.42 312v-1.6M366.42 202.6v1.6M372.14 312v-1.6M372.14 202.6v1.6M377.86 312v-1.6M377.86 202.6v1.6M383.58 312v-1.6M383.58 202.6v1.6M395.02 312v-1.6M395.02 202.6v1.6M400.74 312v-1.6M400.74 202.6v1.6M406.46 312v-1.6M406.46 202.6v1.6M412.18 312v-1.6M412.18 202.6v1.6M423.62 312v-1.6M423.62 202.6v1.6M429.34 312v-1.6M429.34 202.6v1.6M435.06 312v-1.6M435.06 202.6v1.6M440.78 312v-1.6M440.78 202.6v1.6M271.3 297.2h2.6M450.2 297.2h-2.6M271.3 278h2.6M450.2 278h-2.6M271.3 258.8h2.6M450.2 258.8h-2.6M271.3 239.6h2.6M450.2 239.6h-2.6M271.3 220.4h2.6M450.2 220.4h-2.6M271.3 310.64h1.6M450.2 310.64h-1.6M271.3 308.72h1.6M450.2 308.72h-1.6M271.3 306.8h1.6M450.2 306.8h-1.6M271.3 304.88h1.6M450.2 304.88h-1.6M271.3 302.96h1.6M450.2 302.96h-1.6M271.3 301.04h1.6M450.2 301.04h-1.6M271.3 299.12h1.6M450.2 299.12h-1.6M271.3 295.28h1.6M450.2 295.28h-1.6M271.3 293.36h1.6M450.2 293.36h-1.6M271.3 291.44h1.6M450.2 291.44h-1.6M271.3 289.52h1.6M450.2 289.52h-1.6M271.3 287.6h1.6M450.2 287.6h-1.6M271.3 285.68h1.6M450.2 285.68h-1.6M271.3 283.76h1.6M450.2 283.76h-1.6M271.3 281.84h1.6M450.2 281.84h-1.6M271.3 279.92h1.6M450.2 279.92h-1.6M271.3 276.08h1.6M450.2 276.08h-1.6M271.3 274.16h1.6M450.2 274.16h-1.6M271.3 272.24h1.6M450.2 272.24h-1.6M271.3 270.32h1.6M450.2 270.32h-1.6M271.3 268.4h1.6M450.2 268.4h-1.6M271.3 266.48h1.6M450.2 266.48h-1.6M271.3 264.56h1.6M450.2 264.56h-1.6M271.3 262.64h1.6M450.2 262.64h-1.6M271.3 260.72h1.6M450.2 260.72h-1.6M271.3 256.88h1.6M450.2 256.88h-1.6M271.3 254.96h1.6M450.2 254.96h-1.6M271.3 253.04h1.6M450.2 253.04h-1.6M271.3 251.12h1.6M450.2 251.12h-1.6M271.3 249.2h1.6M450.2 249.2h-1.6M271.3 247.28h1.6M450.2 247.28h-1.6M271.3 245.36h1.6M450.2 245.36h-1.6M271.3 243.44h1.6M450.2 243.44h-1.6M271.3 241.52h1.6M450.2 241.52h-1.6M271.3 237.68h1.6M450.2 237.68h-1.6M271.3 235.76h1.6M450.2 235.76h-1.6M271.3 233.84h1.6M450.2 233.84h-1.6M271.3 231.92h1.6M450.2 231.92h-1.6M271.3 230h1.6M450.2 230h-1.6M271.3 228.08h1.6M450.2 228.08h-1.6M271.3 226.16h1.6M450.2 226.16h-1.6M271.3 224.24h1.6M450.2 224.24h-1.6M271.3 222.32h1.6M450.2 222.32h-1.6M271.3 218.48h1.6M450.2 218.48h-1.6M271.3 216.56h1.6M450.2 216.56h-1.6M271.3 214.64h1.6M450.2 214.64h-1.6M271.3 212.72h1.6M450.2 212.72h-1.6M271.3 210.8h1.6M450.2 210.8h-1.6M271.3 208.88h1.6M450.2 208.88h-1.6M271.3 206.96h1.6M450.2 206.96h-1.6M271.3 205.04h1.6M450.2 205.04h-1.6M271.3 203.12h1.6M450.2 203.12h-1.6" stroke="#000" stroke-width="0.9" fill="none"/>
<rect x="271.3" y="202.6" width="178.9" height="109.4" fill="none" stroke="#000" stroke-width="1.3"/>
<text x="267.2" y="300.2" font-size="8.5" text-anchor="end">15.0</text>
<text x="267.2" y="281" font-size="8.5" text-anchor="end">15.1</text>
<text x="267.2" y="261.8" font-size="8.5" text-anchor="end">15.2</text>
<text x="267.2" y="242.6" font-size="8.5" text-anchor="end">15.3</text>
<text x="267.2" y="223.4" font-size="8.5" text-anchor="end">15.4</text>
<text x="274.9" y="322.9" font-size="8.5" text-anchor="middle">0</text>
<text x="303.5" y="322.9" font-size="8.5" text-anchor="middle">5</text>
<text x="332.1" y="322.9" font-size="8.5" text-anchor="middle">10</text>
<text x="360.7" y="322.9" font-size="8.5" text-anchor="middle">15</text>
<text x="389.3" y="322.9" font-size="8.5" text-anchor="middle">20</text>
<text x="417.9" y="322.9" font-size="8.5" text-anchor="middle">25</text>
<text x="446.5" y="322.9" font-size="8.5" text-anchor="middle">30</text>
<text transform="translate(243.0 257.6) rotate(-90)" font-size="9.8" text-anchor="middle">Absorbance (%)</text>
<text x="360.8" y="197.3" font-size="11" text-anchor="middle">Graphene acoustic plasmons</text>
<rect x="505.4" y="24" width="177.6" height="1.6" fill="url(#g1)"/>
<rect x="505.4" y="25" width="177.6" height="1.6" fill="url(#g2)"/>
<rect x="505.4" y="26" width="177.6" height="1.6" fill="url(#g3)"/>
<rect x="505.4" y="27" width="177.6" height="1.6" fill="url(#g4)"/>
<rect x="505.4" y="28" width="177.6" height="1.6" fill="url(#g5)"/>
<rect x="505.4" y="29" width="177.6" height="1.6" fill="url(#g6)"/>
<rect x="505.4" y="30" width="177.6" height="1.6" fill="url(#g7)"/>
<rect x="505.4" y="31" width="177.6" height="1.6" fill="url(#g8)"/>
<rect x="505.4" y="32" width="177.6" height="1.6" fill="url(#g9)"/>
<rect x="505.4" y="33" width="177.6" height="1.6" fill="url(#g10)"/>
<rect x="505.4" y="34" width="177.6" height="1.6" fill="url(#g11)"/>
<rect x="505.4" y="35" width="177.6" height="1.6" fill="url(#g12)"/>
<rect x="505.4" y="36" width="177.6" height="1.6" fill="url(#g13)"/>
<rect x="505.4" y="37" width="177.6" height="1.6" fill="url(#g14)"/>
<rect x="505.4" y="38" width="177.6" height="1.6" fill="url(#g15)"/>
<rect x="505.4" y="39" width="177.6" height="1.6" fill="url(#g16)"/>
<rect x="505.4" y="40" width="177.6" height="1.6" fill="url(#g17)"/>
<rect x="505.4" y="41" width="177.6" height="1.6" fill="url(#g18)"/>
<rect x="505.4" y="42" width="177.6" height="1.6" fill="url(#g19)"/>
<rect x="505.4" y="43" width="177.6" height="1.6" fill="url(#g20)"/>
<rect x="505.4" y="44" width="177.6" height="1.6" fill="url(#g21)"/>
<rect x="505.4" y="45" width="177.6" height="1.6" fill="url(#g22)"/>
<rect x="505.4" y="46" width="177.6" height="1.6" fill="url(#g23)"/>
<rect x="505.4" y="47" width="177.6" height="1.6" fill="url(#g24)"/>
<rect x="505.4" y="48" width="177.6" height="1.6" fill="url(#g25)"/>
<rect x="505.4" y="49" width="177.6" height="1.6" fill="url(#g26)"/>
<rect x="505.4" y="50" width="177.6" height="1.6" fill="url(#g27)"/>
<rect x="505.4" y="51" width="177.6" height="1.6" fill="url(#g28)"/>
<rect x="505.4" y="52" width="177.6" height="1.6" fill="url(#g29)"/>
<rect x="505.4" y="53" width="177.6" height="1.6" fill="url(#g30)"/>
<rect x="505.4" y="54" width="177.6" height="1.6" fill="url(#g31)"/>
<rect x="505.4" y="55" width="177.6" height="1.6" fill="url(#g32)"/>
<rect x="505.4" y="56" width="177.6" height="1.6" fill="url(#g33)"/>
<rect x="505.4" y="57" width="177.6" height="1.6" fill="url(#g34)"/>
<rect x="505.4" y="58" width="177.6" height="1.6" fill="url(#g35)"/>
<rect x="505.4" y="59" width="177.6" height="1.6" fill="url(#g36)"/>
<rect x="505.4" y="60" width="177.6" height="1.6" fill="url(#g37)"/>
<rect x="505.4" y="61" width="177.6" height="1.6" fill="url(#g38)"/>
<rect x="505.4" y="62" width="177.6" height="1.6" fill="url(#g39)"/>
<rect x="505.4" y="63" width="177.6" height="1.6" fill="url(#g40)"/>
<rect x="505.4" y="64" width="177.6" height="1.6" fill="url(#g41)"/>
<rect x="505.4" y="65" width="177.6" height="1.6" fill="url(#g42)"/>
<rect x="505.4" y="66" width="177.6" height="1.6" fill="url(#g43)"/>
<rect x="505.4" y="67" width="177.6" height="1.6" fill="url(#g44)"/>
<rect x="505.4" y="68" width="177.6" height="1.6" fill="url(#g45)"/>
<rect x="505.4" y="69" width="177.6" height="1.6" fill="url(#g46)"/>
<rect x="505.4" y="70" width="177.6" height="1.6" fill="url(#g47)"/>
<rect x="505.4" y="71" width="177.6" height="1.6" fill="url(#g48)"/>
<rect x="505.4" y="72" width="177.6" height="1.6" fill="url(#g49)"/>
<rect x="505.4" y="73" width="177.6" height="1.6" fill="url(#g50)"/>
<rect x="505.4" y="74" width="177.6" height="1.6" fill="url(#g51)"/>
<rect x="505.4" y="75" width="177.6" height="1.6" fill="url(#g52)"/>
<rect x="505.4" y="76" width="177.6" height="1.6" fill="url(#g53)"/>
<rect x="505.4" y="77" width="177.6" height="1.6" fill="url(#g54)"/>
<rect x="505.4" y="78" width="177.6" height="1.6" fill="url(#g55)"/>
<rect x="505.4" y="79" width="177.6" height="1.6" fill="url(#g56)"/>
<rect x="505.4" y="80" width="177.6" height="1.6" fill="url(#g57)"/>
<rect x="505.4" y="81" width="177.6" height="1.6" fill="url(#g58)"/>
<rect x="505.4" y="82" width="177.6" height="1.6" fill="url(#g59)"/>
<rect x="505.4" y="83" width="177.6" height="1.6" fill="url(#g60)"/>
<line x1="505.4" y1="54" x2="683" y2="54" stroke="#ffffff" stroke-width="1.3"/>
<path d="M515.6 83.7v-2.2M515.6 24.3v2.2M525.51 83.7v-1.3M525.51 24.3v1.3M535.41 83.7v-2.2M535.41 24.3v2.2M545.32 83.7v-1.3M545.32 24.3v1.3M555.23 83.7v-2.2M555.23 24.3v2.2M565.13 83.7v-1.3M565.13 24.3v1.3M575.04 83.7v-2.2M575.04 24.3v2.2M584.94 83.7v-1.3M584.94 24.3v1.3M594.85 83.7v-2.2M594.85 24.3v2.2M604.76 83.7v-1.3M604.76 24.3v1.3M614.66 83.7v-2.2M614.66 24.3v2.2M624.57 83.7v-1.3M624.57 24.3v1.3M634.47 83.7v-2.2M634.47 24.3v2.2M644.38 83.7v-1.3M644.38 24.3v1.3M654.29 83.7v-2.2M654.29 24.3v2.2M664.19 83.7v-1.3M664.19 24.3v1.3M674.1 83.7v-2.2M674.1 24.3v2.2M505.4 77.76h1.3M683 77.76h-1.3M505.4 71.82h1.3M683 71.82h-1.3M505.4 65.88h1.3M683 65.88h-1.3M505.4 59.94h1.3M683 59.94h-1.3M505.4 54h2.2M683 54h-2.2M505.4 48.06h1.3M683 48.06h-1.3M505.4 42.12h1.3M683 42.12h-1.3M505.4 36.18h1.3M683 36.18h-1.3M505.4 30.24h1.3M683 30.24h-1.3" stroke="#000" stroke-width="0.8"/>
<rect x="505.4" y="24.3" width="177.6" height="59.4" fill="none" stroke="#000" stroke-width="1"/>
<text x="510.5" y="37.2" font-size="10.2" fill="#fff">A</text>
<text x="679.8" y="79.2" font-size="10" text-anchor="end" fill="#fff">|<tspan font-weight="bold">E</tspan><tspan dx="1">|</tspan> (a.u.)</text>
<rect x="547.9" y="9.9" width="92.7" height="6.8" fill="url(#g61)"/>
<text x="518.2" y="16.6" font-size="10">|<tspan font-weight="bold">E</tspan><tspan dx="0.9">|</tspan><tspan font-size="7" dx="0.4" dy="2.3">min</tspan></text>
<text x="645.0" y="16.6" font-size="10">|<tspan font-weight="bold">E</tspan><tspan dx="0.9">|</tspan><tspan font-size="7" dx="0.4" dy="2.3">max</tspan></text>
<text x="502" y="27.3" font-size="8.5" text-anchor="end">0.5</text>
<text x="502" y="57" font-size="8.5" text-anchor="end">0.0</text>
<text x="502" y="86.7" font-size="8.5" text-anchor="end">−0.5</text>
<text x="515.6" y="95.2" font-size="8.5" text-anchor="middle">−8</text>
<text x="535.41" y="95.2" font-size="8.5" text-anchor="middle">−6</text>
<text x="555.23" y="95.2" font-size="8.5" text-anchor="middle">−4</text>
<text x="575.04" y="95.2" font-size="8.5" text-anchor="middle">−2</text>
<text x="594.85" y="95.2" font-size="8.5" text-anchor="middle">0</text>
<text x="614.66" y="95.2" font-size="8.5" text-anchor="middle">2</text>
<text x="634.47" y="95.2" font-size="8.5" text-anchor="middle">4</text>
<text x="654.29" y="95.2" font-size="8.5" text-anchor="middle">6</text>
<text x="674.1" y="95.2" font-size="8.5" text-anchor="middle">8</text>
<text x="595.3" y="109.1" font-size="9.7" text-anchor="middle"><tspan font-style="italic">x</tspan> (μm)</text>
<text transform="translate(476.2 53.9) rotate(-90)" font-size="10" text-anchor="middle"><tspan font-style="italic">z</tspan> (μm)</text>
<rect x="505.5" y="128.1" width="177.5" height="20.9" fill="url(#g62)"/>
<rect x="505.5" y="147.8" width="177.5" height="11.2" fill="url(#g63)"/>
<rect x="505.5" y="157.65" width="177.5" height="11.35" fill="url(#g64)"/>
<rect x="505.5" y="167.5" width="177.5" height="19.7" fill="url(#g65)"/>
<line x1="535.08" y1="128.1" x2="535.08" y2="187.2" stroke="#333" stroke-width="0.75" stroke-dasharray="2.4 1.8"/>
<line x1="594.25" y1="128.1" x2="594.25" y2="187.2" stroke="#333" stroke-width="0.75" stroke-dasharray="2.4 1.8"/>
<line x1="653.42" y1="128.1" x2="653.42" y2="187.2" stroke="#333" stroke-width="0.75" stroke-dasharray="2.4 1.8"/>
<line x1="505.5" y1="147.8" x2="683" y2="147.8" stroke="#fcead8" stroke-width="1.8"/>
<line x1="504.9" y1="157.65" x2="683" y2="157.65" stroke="#f8e2de" stroke-width="1.5" stroke-dasharray="6.4 2.6"/>
<line x1="504.9" y1="167.5" x2="683" y2="167.5" stroke="#f8e2de" stroke-width="1.5" stroke-dasharray="6.4 2.6"/>
<path d="M511.41 187.2v-1.3M511.41 128.1v1.3M517.33 187.2v-1.3M517.33 128.1v1.3M523.25 187.2v-1.3M523.25 128.1v1.3M529.16 187.2v-1.3M529.16 128.1v1.3M535.08 187.2v-2.2M535.08 128.1v2.2M541 187.2v-1.3M541 128.1v1.3M546.91 187.2v-1.3M546.91 128.1v1.3M552.83 187.2v-1.3M552.83 128.1v1.3M558.75 187.2v-1.3M558.75 128.1v1.3M564.66 187.2v-2.2M564.66 128.1v2.2M570.58 187.2v-1.3M570.58 128.1v1.3M576.5 187.2v-1.3M576.5 128.1v1.3M582.42 187.2v-1.3M582.42 128.1v1.3M588.33 187.2v-1.3M588.33 128.1v1.3M594.25 187.2v-2.2M594.25 128.1v2.2M600.17 187.2v-1.3M600.17 128.1v1.3M606.08 187.2v-1.3M606.08 128.1v1.3M612 187.2v-1.3M612 128.1v1.3M617.92 187.2v-1.3M617.92 128.1v1.3M623.84 187.2v-2.2M623.84 128.1v2.2M629.75 187.2v-1.3M629.75 128.1v1.3M635.67 187.2v-1.3M635.67 128.1v1.3M641.59 187.2v-1.3M641.59 128.1v1.3M647.5 187.2v-1.3M647.5 128.1v1.3M653.42 187.2v-2.2M653.42 128.1v2.2M659.34 187.2v-1.3M659.34 128.1v1.3M665.25 187.2v-1.3M665.25 128.1v1.3M671.17 187.2v-1.3M671.17 128.1v1.3M677.09 187.2v-1.3M677.09 128.1v1.3M505.5 182.27h1.3M683 182.27h-1.3M505.5 177.35h1.3M683 177.35h-1.3M505.5 172.42h1.3M683 172.42h-1.3M505.5 167.5h2.2M683 167.5h-2.2M505.5 162.57h1.3M683 162.57h-1.3M505.5 157.65h1.3M683 157.65h-1.3M505.5 152.72h1.3M683 152.72h-1.3M505.5 147.8h2.2M683 147.8h-2.2M505.5 142.88h1.3M683 142.88h-1.3M505.5 137.95h1.3M683 137.95h-1.3M505.5 133.03h1.3M683 133.03h-1.3" stroke="#000" stroke-width="0.8"/>
<rect x="505.5" y="128.1" width="177.5" height="59.1" fill="none" stroke="#000" stroke-width="1"/>
<text x="510.6" y="140.8" font-size="10.2">B</text>
<text x="679.3" y="182.5" font-size="10" text-anchor="end">|<tspan font-weight="bold">E</tspan><tspan dx="1">|</tspan> (a.u.)</text>
<text x="501" y="131.2" font-size="8.5" text-anchor="end">2</text>
<text x="501" y="150.9" font-size="8.5" text-anchor="end">0</text>
<text x="501" y="170.6" font-size="8.5" text-anchor="end">−2</text>
<text x="501" y="190.3" font-size="8.5" text-anchor="end">−4</text>
<text x="535.08" y="199" font-size="8.5" text-anchor="middle">−1.0</text>
<text x="564.66" y="199" font-size="8.5" text-anchor="middle">−0.5</text>
<text x="594.25" y="199" font-size="8.5" text-anchor="middle">0.0</text>
<text x="623.84" y="199" font-size="8.5" text-anchor="middle">0.5</text>
<text x="653.42" y="199" font-size="8.5" text-anchor="middle">1.0</text>
<text x="595.3" y="212.2" font-size="9.6" text-anchor="middle"><tspan font-style="italic">x</tspan> (μm)</text>
<text transform="translate(483 157.8) rotate(-90)" font-size="9.6" text-anchor="middle"><tspan font-style="italic">z</tspan> (nm)</text>
<rect x="505.5" y="237.3" width="177.5" height="44.75" fill="#050308"/>
<rect x="505.5" y="237.3" width="177.5" height="13.2" fill="url(#g66)"/>
<rect x="505.5" y="250.5" width="177.5" height="12.62" fill="url(#g67)"/>
<line x1="505.5" y1="250.5" x2="683" y2="250.5" stroke="#ffffff" stroke-width="1.4"/>
<line x1="508.5" y1="263.12" x2="683" y2="263.12" stroke="#d0d0d0" stroke-width="1.4" stroke-dasharray="6.8 2.2" stroke-dashoffset="3.6"/>
<line x1="508.5" y1="275.74" x2="683" y2="275.74" stroke="#e2e2e2" stroke-width="1.4" stroke-dasharray="6.8 2.2" stroke-dashoffset="3.6"/>
<path d="M511.41 282.05v-1.2M511.41 237.3v1.2M517.33 282.05v-1.2M517.33 237.3v1.2M523.25 282.05v-1.2M523.25 237.3v1.2M529.16 282.05v-1.2M529.16 237.3v1.2M535.08 282.05v-2.0M535.08 237.3v2.0M541 282.05v-1.2M541 237.3v1.2M546.91 282.05v-1.2M546.91 237.3v1.2M552.83 282.05v-1.2M552.83 237.3v1.2M558.75 282.05v-1.2M558.75 237.3v1.2M564.66 282.05v-2.0M564.66 237.3v2.0M570.58 282.05v-1.2M570.58 237.3v1.2M576.5 282.05v-1.2M576.5 237.3v1.2M582.42 282.05v-1.2M582.42 237.3v1.2M588.33 282.05v-1.2M588.33 237.3v1.2M594.25 282.05v-2.0M594.25 237.3v2.0M600.17 282.05v-1.2M600.17 237.3v1.2M606.08 282.05v-1.2M606.08 237.3v1.2M612 282.05v-1.2M612 237.3v1.2M617.92 282.05v-1.2M617.92 237.3v1.2M623.84 282.05v-2.0M623.84 237.3v2.0M629.75 282.05v-1.2M629.75 237.3v1.2M635.67 282.05v-1.2M635.67 237.3v1.2M641.59 282.05v-1.2M641.59 237.3v1.2M647.5 282.05v-1.2M647.5 237.3v1.2M653.42 282.05v-2.0M653.42 237.3v2.0M659.34 282.05v-1.2M659.34 237.3v1.2M665.25 282.05v-1.2M665.25 237.3v1.2M671.17 282.05v-1.2M671.17 237.3v1.2M677.09 282.05v-1.2M677.09 237.3v1.2" stroke="#000" stroke-width="0.8"/>
<rect x="505.5" y="237.3" width="177.5" height="44.75" fill="none" stroke="#000" stroke-width="1"/>
<text x="510.4" y="247.5" font-size="10.2" fill="#fff">C</text>
<text x="679.5" y="247.5" font-size="10" text-anchor="end" fill="#fff">|<tspan font-weight="bold">E</tspan><tspan dx="1">|</tspan> (a.u.)</text>
<text x="501.5" y="240.98" font-size="8.5" text-anchor="end">1</text>
<text x="501.5" y="253.6" font-size="8.5" text-anchor="end">0</text>
<text x="501.5" y="266.22" font-size="8.5" text-anchor="end">−1</text>
<text x="501.5" y="278.84" font-size="8.5" text-anchor="end">−2</text>
<text transform="translate(482.6 259.68) rotate(-90)" font-size="10" text-anchor="middle"><tspan font-style="italic">z</tspan> (nm)</text>
<rect x="505.5" y="285.3" width="177.5" height="43.62" fill="#050308"/>
<rect x="505.5" y="285.3" width="177.5" height="12.7" fill="url(#g68)"/>
<rect x="505.5" y="298" width="177.5" height="12.62" fill="url(#g69)"/>
<line x1="505.5" y1="298" x2="683" y2="298" stroke="#ffffff" stroke-width="1.4"/>
<line x1="508.5" y1="310.62" x2="683" y2="310.62" stroke="#d0d0d0" stroke-width="1.4" stroke-dasharray="6.8 2.2" stroke-dashoffset="3.6"/>
<line x1="508.5" y1="323.24" x2="683" y2="323.24" stroke="#e2e2e2" stroke-width="1.4" stroke-dasharray="6.8 2.2" stroke-dashoffset="3.6"/>
<path d="M511.41 328.92v-1.2M511.41 285.3v1.2M517.33 328.92v-1.2M517.33 285.3v1.2M523.25 328.92v-1.2M523.25 285.3v1.2M529.16 328.92v-1.2M529.16 285.3v1.2M535.08 328.92v-2.0M535.08 285.3v2.0M541 328.92v-1.2M541 285.3v1.2M546.91 328.92v-1.2M546.91 285.3v1.2M552.83 328.92v-1.2M552.83 285.3v1.2M558.75 328.92v-1.2M558.75 285.3v1.2M564.66 328.92v-2.0M564.66 285.3v2.0M570.58 328.92v-1.2M570.58 285.3v1.2M576.5 328.92v-1.2M576.5 285.3v1.2M582.42 328.92v-1.2M582.42 285.3v1.2M588.33 328.92v-1.2M588.33 285.3v1.2M594.25 328.92v-2.0M594.25 285.3v2.0M600.17 328.92v-1.2M600.17 285.3v1.2M606.08 328.92v-1.2M606.08 285.3v1.2M612 328.92v-1.2M612 285.3v1.2M617.92 328.92v-1.2M617.92 285.3v1.2M623.84 328.92v-2.0M623.84 285.3v2.0M629.75 328.92v-1.2M629.75 285.3v1.2M635.67 328.92v-1.2M635.67 285.3v1.2M641.59 328.92v-1.2M641.59 285.3v1.2M647.5 328.92v-1.2M647.5 285.3v1.2M653.42 328.92v-2.0M653.42 285.3v2.0M659.34 328.92v-1.2M659.34 285.3v1.2M665.25 328.92v-1.2M665.25 285.3v1.2M671.17 328.92v-1.2M671.17 285.3v1.2M677.09 328.92v-1.2M677.09 285.3v1.2" stroke="#000" stroke-width="0.8"/>
<rect x="505.5" y="285.3" width="177.5" height="43.62" fill="none" stroke="#000" stroke-width="1"/>
<text x="510.4" y="294.9" font-size="10.2" fill="#fff">D</text>
<text x="679.5" y="294.9" font-size="10" text-anchor="end" fill="#fff">|<tspan font-weight="bold">E</tspan><tspan dx="1">|</tspan> (a.u.)</text>
<text x="501.5" y="288.48" font-size="8.5" text-anchor="end">1</text>
<text x="501.5" y="301.1" font-size="8.5" text-anchor="end">0</text>
<text x="501.5" y="313.72" font-size="8.5" text-anchor="end">−1</text>
<text x="501.5" y="326.34" font-size="8.5" text-anchor="end">−2</text>
<text transform="translate(482.6 307.11) rotate(-90)" font-size="10" text-anchor="middle"><tspan font-style="italic">z</tspan> (nm)</text>
<text x="535.08" y="338.8" font-size="8.5" text-anchor="middle">−1.0</text>
<text x="564.66" y="338.8" font-size="8.5" text-anchor="middle">−0.5</text>
<text x="594.25" y="338.8" font-size="8.5" text-anchor="middle">0.0</text>
<text x="623.84" y="338.8" font-size="8.5" text-anchor="middle">0.5</text>
<text x="653.42" y="338.8" font-size="8.5" text-anchor="middle">1.0</text>
<text x="595.3" y="352.8" font-size="9.6" text-anchor="middle"><tspan font-style="italic">x</tspan> (μm)</text>
<text x="-0.6" y="10.7" font-size="15" font-weight="bold">a</text>
<text x="232.2" y="10.7" font-size="15" font-weight="bold">b</text>
<text x="-0.6" y="192.3" font-size="15" font-weight="bold">c</text>
<text x="232.2" y="192.3" font-size="15" font-weight="bold">d</text>
<text x="467.2" y="10.7" font-size="15" font-weight="bold">e</text>
<text x="473.2" y="131.8" font-size="15" font-weight="bold">f</text>
<text x="473.8" y="234.8" font-size="15" font-weight="bold">g</text>
<text x="128.6" y="337.5" font-size="10" text-anchor="middle">Photon energy <tspan id="hb2" font-style="italic">h</tspan><tspan font-style="italic">ω</tspan> (eV)</text>
<text x="361.6" y="337.5" font-size="10" text-anchor="middle">Photon energy <tspan id="hb3" font-style="italic">h</tspan><tspan font-style="italic">ω</tspan> (meV)</text>
<line x1="146.1" y1="330.8" x2="149.7" y2="330.8" stroke="#000" stroke-width="0.85"/>
<line x1="374.9" y1="330.8" x2="378.5" y2="330.8" stroke="#000" stroke-width="0.85"/>
</svg>
</body></html>
